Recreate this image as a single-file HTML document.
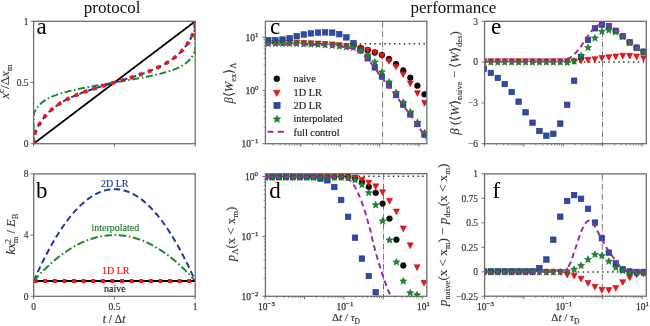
<!DOCTYPE html>
<html><head><meta charset="utf-8"><style>
html,body{margin:0;padding:0;background:#fff;width:650px;height:326px;overflow:hidden}
svg{display:block;font-family:"Liberation Serif", serif;filter:blur(0.3px)}
</style></head><body>
<svg width="650" height="326" viewBox="0 0 650 326" font-family='"Liberation Serif", serif'>
<rect width="650" height="326" fill="#fff"/>
<defs>
<clipPath id="ca"><rect x="33.6" y="21.3" width="161.6" height="122.4"/></clipPath>
<clipPath id="cb"><rect x="33.7" y="173.9" width="161.5" height="122.4"/></clipPath>
<clipPath id="cc"><rect x="265.4" y="21.3" width="161.4" height="122.4"/></clipPath>
<clipPath id="cd"><rect x="265.4" y="173.7" width="161.4" height="122.6"/></clipPath>
<clipPath id="ce"><rect x="484.6" y="21.3" width="161.7" height="122.4"/></clipPath>
<clipPath id="cf"><rect x="484.6" y="173.9" width="161.7" height="122.3"/></clipPath>
</defs>
<text x="83.8" y="12.6" font-size="17" fill="#111" stroke="#111" stroke-width="0.0" text-anchor="start">protocol</text>
<text x="410.5" y="12.6" font-size="17" fill="#111" stroke="#111" stroke-width="0.0" text-anchor="start">performance</text>
<g clip-path="url(#ca)">
<path d="M33.6 143.7 L195.2 21.3" fill="none" stroke="#000" stroke-width="1.8"/>
<path d="M33.6 143.7 L33.68 113.73 L35.03 111.16 L36.37 108.96 L37.72 107.07 L39.06 105.44 L40.41 104.02 L41.75 102.77 L43.1 101.66 L44.44 100.68 L45.79 99.8 L47.13 99 L48.48 98.27 L49.82 97.6 L51.17 96.98 L52.52 96.4 L53.86 95.86 L55.21 95.35 L56.55 94.86 L57.9 94.4 L59.24 93.96 L60.59 93.54 L61.93 93.13 L63.28 92.74 L64.62 92.36 L65.97 91.99 L67.31 91.64 L68.66 91.29 L70 90.95 L71.35 90.63 L72.7 90.31 L74.04 90 L75.39 89.69 L76.73 89.39 L78.08 89.1 L79.42 88.81 L80.77 88.53 L82.11 88.26 L83.46 87.98 L84.8 87.72 L86.15 87.45 L87.49 87.2 L88.84 86.94 L90.18 86.69 L91.53 86.44 L92.87 86.19 L94.22 85.95 L95.57 85.71 L96.91 85.47 L98.26 85.23 L99.6 85 L100.95 84.77 L102.29 84.54 L103.64 84.31 L104.98 84.08 L106.33 83.85 L107.67 83.62 L109.02 83.4 L110.36 83.17 L111.71 82.95 L113.05 82.72 L114.4 82.5 L115.75 82.28 L117.09 82.05 L118.44 81.83 L119.78 81.6 L121.13 81.38 L122.47 81.15 L123.82 80.92 L125.16 80.69 L126.51 80.46 L127.85 80.23 L129.2 80 L130.54 79.77 L131.89 79.53 L133.23 79.29 L134.58 79.05 L135.93 78.81 L137.27 78.56 L138.62 78.31 L139.96 78.06 L141.31 77.8 L142.65 77.55 L144 77.28 L145.34 77.02 L146.69 76.74 L148.03 76.47 L149.38 76.19 L150.72 75.9 L152.07 75.61 L153.41 75.31 L154.76 75 L156.1 74.69 L157.45 74.37 L158.8 74.05 L160.14 73.71 L161.49 73.36 L162.83 73.01 L164.18 72.64 L165.52 72.26 L166.87 71.87 L168.21 71.46 L169.56 71.04 L170.9 70.6 L172.25 70.14 L173.59 69.65 L174.94 69.14 L176.28 68.6 L177.63 68.02 L178.98 67.4 L180.32 66.73 L181.67 66 L183.01 65.2 L184.36 64.32 L185.7 63.34 L187.05 62.23 L188.39 60.98 L189.74 59.56 L191.08 57.93 L192.43 56.04 L193.77 53.84 L195.12 51.27 L195.2 21.3" fill="none" stroke="#1c8a2c" stroke-width="2.0" stroke-dasharray="7 2.6 1.6 2.6"/>
<path d="M33.6 143.7 L33.68 135.97 L35.03 132.75 L36.37 129.84 L37.72 127.21 L39.06 124.82 L40.41 122.64 L41.75 120.63 L43.1 118.78 L44.44 117.06 L45.79 115.46 L47.13 113.97 L48.48 112.58 L49.82 111.27 L51.17 110.04 L52.52 108.88 L53.86 107.78 L55.21 106.74 L56.55 105.75 L57.9 104.81 L59.24 103.91 L60.59 103.05 L61.93 102.23 L63.28 101.44 L64.62 100.69 L65.97 99.96 L67.31 99.25 L68.66 98.57 L70 97.92 L71.35 97.28 L72.7 96.67 L74.04 96.07 L75.39 95.49 L76.73 94.93 L78.08 94.38 L79.42 93.84 L80.77 93.32 L82.11 92.8 L83.46 92.3 L84.8 91.81 L86.15 91.33 L87.49 90.86 L88.84 90.39 L90.18 89.94 L91.53 89.49 L92.87 89.05 L94.22 88.61 L95.57 88.18 L96.91 87.75 L98.26 87.33 L99.6 86.91 L100.95 86.5 L102.29 86.09 L103.64 85.68 L104.98 85.28 L106.33 84.88 L107.67 84.48 L109.02 84.08 L110.36 83.68 L111.71 83.29 L113.05 82.89 L114.4 82.5 L115.75 82.11 L117.09 81.71 L118.44 81.32 L119.78 80.92 L121.13 80.52 L122.47 80.12 L123.82 79.72 L125.16 79.32 L126.51 78.91 L127.85 78.5 L129.2 78.09 L130.54 77.67 L131.89 77.25 L133.23 76.82 L134.58 76.39 L135.93 75.95 L137.27 75.51 L138.62 75.06 L139.96 74.61 L141.31 74.14 L142.65 73.67 L144 73.19 L145.34 72.7 L146.69 72.2 L148.03 71.68 L149.38 71.16 L150.72 70.62 L152.07 70.07 L153.41 69.51 L154.76 68.93 L156.1 68.33 L157.45 67.72 L158.8 67.08 L160.14 66.43 L161.49 65.75 L162.83 65.04 L164.18 64.31 L165.52 63.56 L166.87 62.77 L168.21 61.95 L169.56 61.09 L170.9 60.19 L172.25 59.25 L173.59 58.26 L174.94 57.22 L176.28 56.12 L177.63 54.96 L178.98 53.73 L180.32 52.42 L181.67 51.03 L183.01 49.54 L184.36 47.94 L185.7 46.22 L187.05 44.37 L188.39 42.36 L189.74 40.18 L191.08 37.79 L192.43 35.16 L193.77 32.25 L195.12 29.03 L195.2 21.3" fill="none" stroke="#1f3a9c" stroke-width="2.0" stroke-dasharray="5.5 3.5"/>
<path d="M33.6 143.7 L33.68 135.97 L35.03 132.75 L36.37 129.84 L37.72 127.21 L39.06 124.82 L40.41 122.64 L41.75 120.63 L43.1 118.78 L44.44 117.06 L45.79 115.46 L47.13 113.97 L48.48 112.58 L49.82 111.27 L51.17 110.04 L52.52 108.88 L53.86 107.78 L55.21 106.74 L56.55 105.75 L57.9 104.81 L59.24 103.91 L60.59 103.05 L61.93 102.23 L63.28 101.44 L64.62 100.69 L65.97 99.96 L67.31 99.25 L68.66 98.57 L70 97.92 L71.35 97.28 L72.7 96.67 L74.04 96.07 L75.39 95.49 L76.73 94.93 L78.08 94.38 L79.42 93.84 L80.77 93.32 L82.11 92.8 L83.46 92.3 L84.8 91.81 L86.15 91.33 L87.49 90.86 L88.84 90.39 L90.18 89.94 L91.53 89.49 L92.87 89.05 L94.22 88.61 L95.57 88.18 L96.91 87.75 L98.26 87.33 L99.6 86.91 L100.95 86.5 L102.29 86.09 L103.64 85.68 L104.98 85.28 L106.33 84.88 L107.67 84.48 L109.02 84.08 L110.36 83.68 L111.71 83.29 L113.05 82.89 L114.4 82.5 L115.75 82.11 L117.09 81.71 L118.44 81.32 L119.78 80.92 L121.13 80.52 L122.47 80.12 L123.82 79.72 L125.16 79.32 L126.51 78.91 L127.85 78.5 L129.2 78.09 L130.54 77.67 L131.89 77.25 L133.23 76.82 L134.58 76.39 L135.93 75.95 L137.27 75.51 L138.62 75.06 L139.96 74.61 L141.31 74.14 L142.65 73.67 L144 73.19 L145.34 72.7 L146.69 72.2 L148.03 71.68 L149.38 71.16 L150.72 70.62 L152.07 70.07 L153.41 69.51 L154.76 68.93 L156.1 68.33 L157.45 67.72 L158.8 67.08 L160.14 66.43 L161.49 65.75 L162.83 65.04 L164.18 64.31 L165.52 63.56 L166.87 62.77 L168.21 61.95 L169.56 61.09 L170.9 60.19 L172.25 59.25 L173.59 58.26 L174.94 57.22 L176.28 56.12 L177.63 54.96 L178.98 53.73 L180.32 52.42 L181.67 51.03 L183.01 49.54 L184.36 47.94 L185.7 46.22 L187.05 44.37 L188.39 42.36 L189.74 40.18 L191.08 37.79 L192.43 35.16 L193.77 32.25 L195.12 29.03 L195.2 21.3" fill="none" stroke="#f01515" stroke-width="3.8" stroke-dasharray="3.8 5.8"/>
</g>
<rect x="33.6" y="21.3" width="161.6" height="122.4" fill="none" stroke="#6e6e6e" stroke-width="1.3"/>
<line x1="30.6" y1="143.7" x2="33.6" y2="143.7" stroke="#6e6e6e" stroke-width="1.0"/>
<line x1="30.6" y1="82.5" x2="33.6" y2="82.5" stroke="#6e6e6e" stroke-width="1.0"/>
<line x1="30.6" y1="21.3" x2="33.6" y2="21.3" stroke="#6e6e6e" stroke-width="1.0"/>
<line x1="33.6" y1="143.7" x2="33.6" y2="146.7" stroke="#6e6e6e" stroke-width="1.0"/>
<line x1="114.4" y1="143.7" x2="114.4" y2="146.7" stroke="#6e6e6e" stroke-width="1.0"/>
<line x1="195.2" y1="143.7" x2="195.2" y2="146.7" stroke="#6e6e6e" stroke-width="1.0"/>
<text x="28.5" y="147.3" font-size="9.5" fill="#333" stroke="#333" stroke-width="0.15" text-anchor="end">0</text>
<text x="28.5" y="86.3" font-size="9.5" fill="#333" stroke="#333" stroke-width="0.15" text-anchor="end">0.5</text>
<text x="28.5" y="24.6" font-size="9.5" fill="#333" stroke="#333" stroke-width="0.15" text-anchor="end">1</text>
<text x="36.6" y="33.6" font-size="23" fill="#000" stroke="#000" stroke-width="0.0" text-anchor="start">a</text>
<text transform="translate(9 81.5) rotate(-90)" font-size="13" fill="#333" stroke="#333" stroke-width="0.1" text-anchor="middle"><tspan font-style="italic">x</tspan><tspan dy="-4.68" font-size="8.84">c</tspan><tspan dy="4.68">/Δ</tspan><tspan font-style="italic">x</tspan><tspan dy="3.12" font-size="8.84">m</tspan></text>
<g clip-path="url(#cb)">
<path d="M33.7 281 L35.32 277.36 L36.93 273.8 L38.55 270.31 L40.16 266.9 L41.78 263.56 L43.39 260.29 L45.01 257.1 L46.62 253.97 L48.23 250.93 L49.85 247.95 L51.47 245.05 L53.08 242.22 L54.7 239.47 L56.31 236.79 L57.92 234.18 L59.54 231.65 L61.16 229.19 L62.77 226.8 L64.39 224.49 L66 222.25 L67.62 220.08 L69.23 217.99 L70.84 215.97 L72.46 214.02 L74.08 212.15 L75.69 210.35 L77.31 208.62 L78.92 206.97 L80.53 205.39 L82.15 203.89 L83.77 202.46 L85.38 201.1 L87 199.81 L88.61 198.6 L90.22 197.46 L91.84 196.4 L93.46 195.41 L95.07 194.49 L96.69 193.64 L98.3 192.87 L99.91 192.17 L101.53 191.55 L103.14 191 L104.76 190.52 L106.38 190.12 L107.99 189.79 L109.61 189.53 L111.22 189.35 L112.84 189.24 L114.45 189.2 L116.06 189.24 L117.68 189.35 L119.3 189.53 L120.91 189.79 L122.53 190.12 L124.14 190.52 L125.75 191 L127.37 191.55 L128.99 192.17 L130.6 192.87 L132.22 193.64 L133.83 194.49 L135.44 195.41 L137.06 196.4 L138.68 197.46 L140.29 198.6 L141.91 199.81 L143.52 201.1 L145.13 202.46 L146.75 203.89 L148.37 205.39 L149.98 206.97 L151.59 208.62 L153.21 210.35 L154.82 212.15 L156.44 214.02 L158.06 215.97 L159.67 217.99 L161.29 220.08 L162.9 222.25 L164.51 224.49 L166.13 226.8 L167.75 229.19 L169.36 231.65 L170.98 234.18 L172.59 236.79 L174.2 239.47 L175.82 242.22 L177.44 245.05 L179.05 247.95 L180.67 250.93 L182.28 253.97 L183.9 257.1 L185.51 260.29 L187.12 263.56 L188.74 266.9 L190.36 270.31 L191.97 273.8 L193.58 277.36 L195.2 281" fill="none" stroke="#1f3a9c" stroke-width="2.0" stroke-dasharray="6.2 3.6"/>
<path d="M33.7 281 L35.32 279.18 L36.93 277.4 L38.55 275.66 L40.16 273.95 L41.78 272.28 L43.39 270.64 L45.01 269.05 L46.62 267.49 L48.23 265.96 L49.85 264.48 L51.47 263.03 L53.08 261.61 L54.7 260.23 L56.31 258.89 L57.92 257.59 L59.54 256.32 L61.16 255.09 L62.77 253.9 L64.39 252.74 L66 251.62 L67.62 250.54 L69.23 249.49 L70.84 248.48 L72.46 247.51 L74.08 246.58 L75.69 245.68 L77.31 244.81 L78.92 243.99 L80.53 243.2 L82.15 242.44 L83.77 241.73 L85.38 241.05 L87 240.41 L88.61 239.8 L90.22 239.23 L91.84 238.7 L93.46 238.2 L95.07 237.74 L96.69 237.32 L98.3 236.94 L99.91 236.59 L101.53 236.28 L103.14 236 L104.76 235.76 L106.38 235.56 L107.99 235.39 L109.61 235.27 L111.22 235.17 L112.84 235.12 L114.45 235.1 L116.06 235.12 L117.68 235.17 L119.3 235.27 L120.91 235.39 L122.53 235.56 L124.14 235.76 L125.75 236 L127.37 236.28 L128.99 236.59 L130.6 236.94 L132.22 237.32 L133.83 237.74 L135.44 238.2 L137.06 238.7 L138.68 239.23 L140.29 239.8 L141.91 240.41 L143.52 241.05 L145.13 241.73 L146.75 242.44 L148.37 243.2 L149.98 243.99 L151.59 244.81 L153.21 245.68 L154.82 246.58 L156.44 247.51 L158.06 248.48 L159.67 249.49 L161.29 250.54 L162.9 251.62 L164.51 252.74 L166.13 253.9 L167.75 255.09 L169.36 256.32 L170.98 257.59 L172.59 258.89 L174.2 260.23 L175.82 261.61 L177.44 263.03 L179.05 264.48 L180.67 265.96 L182.28 267.49 L183.9 269.05 L185.51 270.64 L187.12 272.28 L188.74 273.95 L190.36 275.66 L191.97 277.4 L193.58 279.18 L195.2 281" fill="none" stroke="#1c8a2c" stroke-width="2.0" stroke-dasharray="7.5 2.6 1.6 2.6"/>
<path d="M33.7 281 L195.2 281" fill="none" stroke="#000" stroke-width="2.0"/>
<path d="M33.7 281 L195.2 281" fill="none" stroke="#f01515" stroke-width="3.8" stroke-dasharray="3.8 5.8"/>
</g>
<rect x="33.7" y="173.9" width="161.5" height="122.4" fill="none" stroke="#6e6e6e" stroke-width="1.3"/>
<line x1="30.7" y1="296.3" x2="33.7" y2="296.3" stroke="#6e6e6e" stroke-width="1.0"/>
<line x1="30.7" y1="235.1" x2="33.7" y2="235.1" stroke="#6e6e6e" stroke-width="1.0"/>
<line x1="30.7" y1="173.9" x2="33.7" y2="173.9" stroke="#6e6e6e" stroke-width="1.0"/>
<line x1="33.7" y1="296.3" x2="33.7" y2="299.3" stroke="#6e6e6e" stroke-width="1.0"/>
<line x1="114.45" y1="296.3" x2="114.45" y2="299.3" stroke="#6e6e6e" stroke-width="1.0"/>
<line x1="195.2" y1="296.3" x2="195.2" y2="299.3" stroke="#6e6e6e" stroke-width="1.0"/>
<text x="28.5" y="299.6" font-size="9.5" fill="#333" stroke="#333" stroke-width="0.15" text-anchor="end">0</text>
<text x="28.5" y="238.4" font-size="9.5" fill="#333" stroke="#333" stroke-width="0.15" text-anchor="end">4</text>
<text x="28.5" y="177.4" font-size="9.5" fill="#333" stroke="#333" stroke-width="0.15" text-anchor="end">8</text>
<text x="33.7" y="309.7" font-size="9.5" fill="#333" stroke="#333" stroke-width="0.15" text-anchor="middle">0</text>
<text x="114.5" y="309.7" font-size="9.5" fill="#333" stroke="#333" stroke-width="0.15" text-anchor="middle">0.5</text>
<text x="195.2" y="309.7" font-size="9.5" fill="#333" stroke="#333" stroke-width="0.15" text-anchor="middle">1</text>
<text x="36" y="198" font-size="23" fill="#000" stroke="#000" stroke-width="0.0" text-anchor="start">b</text>
<text x="101" y="187.2" font-size="10" fill="#1f3a9c" stroke="#1f3a9c" stroke-width="0.15" text-anchor="start">2D LR</text>
<text x="91.4" y="231.2" font-size="10" fill="#1a7a26" stroke="#1a7a26" stroke-width="0.15" text-anchor="start">interpolated</text>
<text x="102" y="274" font-size="10" fill="#f01515" stroke="#f01515" stroke-width="0.15" text-anchor="start">1D LR</text>
<text x="104" y="292.2" font-size="10" fill="#111" stroke="#111" stroke-width="0.15" text-anchor="start">naive</text>
<text x="114" y="322.8" font-size="11.5" fill="#333" stroke="#333" stroke-width="0.2" text-anchor="middle"><tspan font-style="italic">t</tspan> / Δ<tspan font-style="italic">t</tspan></text>
<text transform="translate(15 234) rotate(-90)" font-size="12.5" fill="#333" stroke="#333" stroke-width="0.1" text-anchor="middle"><tspan font-style="italic">kx</tspan><tspan dy="-4.5" font-size="8.5">2</tspan><tspan dy="7.5" font-size="8.5" dx="-4.25">m</tspan><tspan dy="-3"> / </tspan><tspan font-style="italic">E</tspan><tspan dy="3" font-size="8.5">B</tspan></text>
<line x1="265.4" y1="43.7" x2="426.8" y2="43.7" stroke="#3a3a3a" stroke-width="1.5" stroke-dasharray="1.5 3.4" stroke-dashoffset="-1.2" stroke-linecap="butt"/>
<line x1="382.6" y1="21.3" x2="382.6" y2="143.7" stroke="#777" stroke-width="1" stroke-dasharray="6 1.6 0.8 1.6"/>
<g clip-path="url(#cc)">
<circle cx="360.6" cy="48" r="2.9" fill="#111" stroke="#000" stroke-width="0.5"/>
<circle cx="367.7" cy="50.2" r="2.9" fill="#111" stroke="#000" stroke-width="0.5"/>
<circle cx="374.8" cy="52.5" r="2.9" fill="#111" stroke="#000" stroke-width="0.5"/>
<circle cx="381.9" cy="55.1" r="2.9" fill="#111" stroke="#000" stroke-width="0.5"/>
<circle cx="389" cy="59" r="2.9" fill="#111" stroke="#000" stroke-width="0.5"/>
<circle cx="396.1" cy="64" r="2.9" fill="#111" stroke="#000" stroke-width="0.5"/>
<circle cx="403.2" cy="70.5" r="2.9" fill="#111" stroke="#000" stroke-width="0.5"/>
<circle cx="410.3" cy="77.7" r="2.9" fill="#111" stroke="#000" stroke-width="0.5"/>
<circle cx="417.4" cy="85.7" r="2.9" fill="#111" stroke="#000" stroke-width="0.5"/>
<circle cx="424.5" cy="94.3" r="2.9" fill="#111" stroke="#000" stroke-width="0.5"/>
<path d="M265.25 40.17 L271.35 40.17 L268.3 45.96 Z" fill="#f01515" stroke="#b00000" stroke-width="0.5"/>
<path d="M272.35 40.17 L278.45 40.17 L275.4 45.96 Z" fill="#f01515" stroke="#b00000" stroke-width="0.5"/>
<path d="M279.45 40.17 L285.55 40.17 L282.5 45.96 Z" fill="#f01515" stroke="#b00000" stroke-width="0.5"/>
<path d="M286.55 40.17 L292.65 40.17 L289.6 45.96 Z" fill="#f01515" stroke="#b00000" stroke-width="0.5"/>
<path d="M293.65 40.17 L299.75 40.17 L296.7 45.96 Z" fill="#f01515" stroke="#b00000" stroke-width="0.5"/>
<path d="M300.75 40.47 L306.85 40.47 L303.8 46.26 Z" fill="#f01515" stroke="#b00000" stroke-width="0.5"/>
<path d="M307.85 40.77 L313.95 40.77 L310.9 46.56 Z" fill="#f01515" stroke="#b00000" stroke-width="0.5"/>
<path d="M314.95 41.07 L321.05 41.07 L318 46.86 Z" fill="#f01515" stroke="#b00000" stroke-width="0.5"/>
<path d="M322.05 41.47 L328.15 41.47 L325.1 47.26 Z" fill="#f01515" stroke="#b00000" stroke-width="0.5"/>
<path d="M329.15 41.97 L335.25 41.97 L332.2 47.76 Z" fill="#f01515" stroke="#b00000" stroke-width="0.5"/>
<path d="M336.25 42.67 L342.35 42.67 L339.3 48.46 Z" fill="#f01515" stroke="#b00000" stroke-width="0.5"/>
<path d="M343.35 43.57 L349.45 43.57 L346.4 49.36 Z" fill="#f01515" stroke="#b00000" stroke-width="0.5"/>
<path d="M350.45 44.17 L356.55 44.17 L353.5 49.96 Z" fill="#f01515" stroke="#b00000" stroke-width="0.5"/>
<path d="M357.55 46.07 L363.65 46.07 L360.6 51.86 Z" fill="#f01515" stroke="#b00000" stroke-width="0.5"/>
<path d="M364.65 47.67 L370.75 47.67 L367.7 53.46 Z" fill="#f01515" stroke="#b00000" stroke-width="0.5"/>
<path d="M371.75 50.07 L377.85 50.07 L374.8 55.86 Z" fill="#f01515" stroke="#b00000" stroke-width="0.5"/>
<path d="M378.85 53.07 L384.95 53.07 L381.9 58.86 Z" fill="#f01515" stroke="#b00000" stroke-width="0.5"/>
<path d="M385.95 58.37 L392.05 58.37 L389 64.16 Z" fill="#f01515" stroke="#b00000" stroke-width="0.5"/>
<path d="M393.05 64.07 L399.15 64.07 L396.1 69.86 Z" fill="#f01515" stroke="#b00000" stroke-width="0.5"/>
<path d="M400.15 71.77 L406.25 71.77 L403.2 77.56 Z" fill="#f01515" stroke="#b00000" stroke-width="0.5"/>
<path d="M407.25 80.97 L413.35 80.97 L410.3 86.76 Z" fill="#f01515" stroke="#b00000" stroke-width="0.5"/>
<path d="M414.35 90.67 L420.45 90.67 L417.4 96.46 Z" fill="#f01515" stroke="#b00000" stroke-width="0.5"/>
<path d="M421.45 100.37 L427.55 100.37 L424.5 106.16 Z" fill="#f01515" stroke="#b00000" stroke-width="0.5"/>
<rect x="265.55" y="37.45" width="5.5" height="5.5" fill="#2f4aa6" stroke="#1f3380" stroke-width="0.6"/>
<rect x="272.65" y="37.45" width="5.5" height="5.5" fill="#2f4aa6" stroke="#1f3380" stroke-width="0.6"/>
<rect x="279.75" y="36.75" width="5.5" height="5.5" fill="#2f4aa6" stroke="#1f3380" stroke-width="0.6"/>
<rect x="286.85" y="35.55" width="5.5" height="5.5" fill="#2f4aa6" stroke="#1f3380" stroke-width="0.6"/>
<rect x="293.95" y="33.45" width="5.5" height="5.5" fill="#2f4aa6" stroke="#1f3380" stroke-width="0.6"/>
<rect x="301.05" y="31.75" width="5.5" height="5.5" fill="#2f4aa6" stroke="#1f3380" stroke-width="0.6"/>
<rect x="308.15" y="30.65" width="5.5" height="5.5" fill="#2f4aa6" stroke="#1f3380" stroke-width="0.6"/>
<rect x="315.25" y="29.85" width="5.5" height="5.5" fill="#2f4aa6" stroke="#1f3380" stroke-width="0.6"/>
<rect x="322.35" y="29.65" width="5.5" height="5.5" fill="#2f4aa6" stroke="#1f3380" stroke-width="0.6"/>
<rect x="329.45" y="29.85" width="5.5" height="5.5" fill="#2f4aa6" stroke="#1f3380" stroke-width="0.6"/>
<rect x="336.55" y="31.45" width="5.5" height="5.5" fill="#2f4aa6" stroke="#1f3380" stroke-width="0.6"/>
<rect x="343.65" y="34.65" width="5.5" height="5.5" fill="#2f4aa6" stroke="#1f3380" stroke-width="0.6"/>
<rect x="350.75" y="40.45" width="5.5" height="5.5" fill="#2f4aa6" stroke="#1f3380" stroke-width="0.6"/>
<rect x="357.85" y="47.55" width="5.5" height="5.5" fill="#2f4aa6" stroke="#1f3380" stroke-width="0.6"/>
<rect x="364.95" y="55.55" width="5.5" height="5.5" fill="#2f4aa6" stroke="#1f3380" stroke-width="0.6"/>
<rect x="372.05" y="64.65" width="5.5" height="5.5" fill="#2f4aa6" stroke="#1f3380" stroke-width="0.6"/>
<rect x="379.15" y="73.85" width="5.5" height="5.5" fill="#2f4aa6" stroke="#1f3380" stroke-width="0.6"/>
<rect x="386.25" y="82.65" width="5.5" height="5.5" fill="#2f4aa6" stroke="#1f3380" stroke-width="0.6"/>
<rect x="393.35" y="92.35" width="5.5" height="5.5" fill="#2f4aa6" stroke="#1f3380" stroke-width="0.6"/>
<rect x="400.45" y="101.95" width="5.5" height="5.5" fill="#2f4aa6" stroke="#1f3380" stroke-width="0.6"/>
<rect x="407.55" y="111.65" width="5.5" height="5.5" fill="#2f4aa6" stroke="#1f3380" stroke-width="0.6"/>
<rect x="414.65" y="121.35" width="5.5" height="5.5" fill="#2f4aa6" stroke="#1f3380" stroke-width="0.6"/>
<rect x="421.75" y="131.85" width="5.5" height="5.5" fill="#2f4aa6" stroke="#1f3380" stroke-width="0.6"/>
<path d="M268.3 40 L269.28 42.35 L271.82 42.56 L269.88 44.21 L270.47 46.69 L268.3 45.36 L266.13 46.69 L266.72 44.21 L264.78 42.56 L267.32 42.35 Z" fill="#1c8a2c" stroke="#0f5c1a" stroke-width="0.5"/>
<path d="M275.4 40 L276.38 42.35 L278.92 42.56 L276.98 44.21 L277.57 46.69 L275.4 45.36 L273.23 46.69 L273.82 44.21 L271.88 42.56 L274.42 42.35 Z" fill="#1c8a2c" stroke="#0f5c1a" stroke-width="0.5"/>
<path d="M282.5 40 L283.48 42.35 L286.02 42.56 L284.08 44.21 L284.67 46.69 L282.5 45.36 L280.33 46.69 L280.92 44.21 L278.98 42.56 L281.52 42.35 Z" fill="#1c8a2c" stroke="#0f5c1a" stroke-width="0.5"/>
<path d="M289.6 40 L290.58 42.35 L293.12 42.56 L291.18 44.21 L291.77 46.69 L289.6 45.36 L287.43 46.69 L288.02 44.21 L286.08 42.56 L288.62 42.35 Z" fill="#1c8a2c" stroke="#0f5c1a" stroke-width="0.5"/>
<path d="M296.7 40 L297.68 42.35 L300.22 42.56 L298.28 44.21 L298.87 46.69 L296.7 45.36 L294.53 46.69 L295.12 44.21 L293.18 42.56 L295.72 42.35 Z" fill="#1c8a2c" stroke="#0f5c1a" stroke-width="0.5"/>
<path d="M303.8 40.3 L304.78 42.65 L307.32 42.86 L305.38 44.51 L305.97 46.99 L303.8 45.66 L301.63 46.99 L302.22 44.51 L300.28 42.86 L302.82 42.65 Z" fill="#1c8a2c" stroke="#0f5c1a" stroke-width="0.5"/>
<path d="M310.9 40.6 L311.88 42.95 L314.42 43.16 L312.48 44.81 L313.07 47.29 L310.9 45.96 L308.73 47.29 L309.32 44.81 L307.38 43.16 L309.92 42.95 Z" fill="#1c8a2c" stroke="#0f5c1a" stroke-width="0.5"/>
<path d="M318 40.9 L318.98 43.25 L321.52 43.46 L319.58 45.11 L320.17 47.59 L318 46.27 L315.83 47.59 L316.42 45.11 L314.48 43.46 L317.02 43.25 Z" fill="#1c8a2c" stroke="#0f5c1a" stroke-width="0.5"/>
<path d="M325.1 41.3 L326.08 43.65 L328.62 43.86 L326.68 45.51 L327.27 47.99 L325.1 46.66 L322.93 47.99 L323.52 45.51 L321.58 43.86 L324.12 43.65 Z" fill="#1c8a2c" stroke="#0f5c1a" stroke-width="0.5"/>
<path d="M332.2 41.8 L333.18 44.15 L335.72 44.36 L333.78 46.01 L334.37 48.49 L332.2 47.16 L330.03 48.49 L330.62 46.01 L328.68 44.36 L331.22 44.15 Z" fill="#1c8a2c" stroke="#0f5c1a" stroke-width="0.5"/>
<path d="M339.3 42.5 L340.28 44.85 L342.82 45.06 L340.88 46.71 L341.47 49.19 L339.3 47.86 L337.13 49.19 L337.72 46.71 L335.78 45.06 L338.32 44.85 Z" fill="#1c8a2c" stroke="#0f5c1a" stroke-width="0.5"/>
<path d="M346.4 43.4 L347.38 45.75 L349.92 45.96 L347.98 47.61 L348.57 50.09 L346.4 48.77 L344.23 50.09 L344.82 47.61 L342.88 45.96 L345.42 45.75 Z" fill="#1c8a2c" stroke="#0f5c1a" stroke-width="0.5"/>
<path d="M353.5 44 L354.48 46.35 L357.02 46.56 L355.08 48.21 L355.67 50.69 L353.5 49.36 L351.33 50.69 L351.92 48.21 L349.98 46.56 L352.52 46.35 Z" fill="#1c8a2c" stroke="#0f5c1a" stroke-width="0.5"/>
<path d="M360.6 46.5 L361.58 48.85 L364.12 49.06 L362.18 50.71 L362.77 53.19 L360.6 51.86 L358.43 53.19 L359.02 50.71 L357.08 49.06 L359.62 48.85 Z" fill="#1c8a2c" stroke="#0f5c1a" stroke-width="0.5"/>
<path d="M367.7 51.4 L368.68 53.75 L371.22 53.96 L369.28 55.61 L369.87 58.09 L367.7 56.77 L365.53 58.09 L366.12 55.61 L364.18 53.96 L366.72 53.75 Z" fill="#1c8a2c" stroke="#0f5c1a" stroke-width="0.5"/>
<path d="M374.8 58.4 L375.78 60.75 L378.32 60.96 L376.38 62.61 L376.97 65.09 L374.8 63.77 L372.63 65.09 L373.22 62.61 L371.28 60.96 L373.82 60.75 Z" fill="#1c8a2c" stroke="#0f5c1a" stroke-width="0.5"/>
<path d="M381.9 68.3 L382.88 70.65 L385.42 70.86 L383.48 72.51 L384.07 74.99 L381.9 73.67 L379.73 74.99 L380.32 72.51 L378.38 70.86 L380.92 70.65 Z" fill="#1c8a2c" stroke="#0f5c1a" stroke-width="0.5"/>
<path d="M389 78.5 L389.98 80.85 L392.52 81.06 L390.58 82.71 L391.17 85.19 L389 83.87 L386.83 85.19 L387.42 82.71 L385.48 81.06 L388.02 80.85 Z" fill="#1c8a2c" stroke="#0f5c1a" stroke-width="0.5"/>
<path d="M396.1 89 L397.08 91.35 L399.62 91.56 L397.68 93.21 L398.27 95.69 L396.1 94.37 L393.93 95.69 L394.52 93.21 L392.58 91.56 L395.12 91.35 Z" fill="#1c8a2c" stroke="#0f5c1a" stroke-width="0.5"/>
<path d="M403.2 98.7 L404.18 101.05 L406.72 101.26 L404.78 102.91 L405.37 105.39 L403.2 104.07 L401.03 105.39 L401.62 102.91 L399.68 101.26 L402.22 101.05 Z" fill="#1c8a2c" stroke="#0f5c1a" stroke-width="0.5"/>
<path d="M410.3 108.3 L411.28 110.65 L413.82 110.86 L411.88 112.51 L412.47 114.99 L410.3 113.67 L408.13 114.99 L408.72 112.51 L406.78 110.86 L409.32 110.65 Z" fill="#1c8a2c" stroke="#0f5c1a" stroke-width="0.5"/>
<path d="M417.4 118.8 L418.38 121.15 L420.92 121.36 L418.98 123.01 L419.57 125.49 L417.4 124.17 L415.23 125.49 L415.82 123.01 L413.88 121.36 L416.42 121.15 Z" fill="#1c8a2c" stroke="#0f5c1a" stroke-width="0.5"/>
<path d="M424.5 129.1 L425.48 131.45 L428.02 131.66 L426.08 133.31 L426.67 135.79 L424.5 134.47 L422.33 135.79 L422.92 133.31 L420.98 131.66 L423.52 131.45 Z" fill="#1c8a2c" stroke="#0f5c1a" stroke-width="0.5"/>
<path d="M265.4 44.4 C271.17 44.43 290.13 44.47 300 44.6 C309.87 44.73 317.93 44.87 324.6 45.2 C331.27 45.53 335.28 45.98 340 46.6 C344.72 47.22 349.52 47.9 352.9 48.9 C356.28 49.9 357.93 50.98 360.3 52.6 C362.67 54.22 364.82 56.17 367.1 58.6 C369.38 61.03 371.7 64.23 374 67.2 C376.3 70.17 378.6 73.38 380.9 76.4 C383.2 79.42 385.4 82.18 387.8 85.3 C390.2 88.42 392.85 91.88 395.3 95.1 C397.75 98.32 400.07 101.4 402.5 104.6 C404.93 107.8 407.52 111.05 409.9 114.3 C412.28 117.55 414.48 120.72 416.8 124.1 C419.12 127.48 421.93 131.87 423.8 134.6 C425.67 137.33 427.3 139.52 428 140.5" fill="none" stroke="#a02ca0" stroke-width="2.0" stroke-dasharray="5.5 3.7"/>
</g>
<rect x="265.4" y="21.3" width="161.4" height="122.4" fill="none" stroke="#6e6e6e" stroke-width="1.3"/>
<line x1="300.8" y1="143.7" x2="300.8" y2="146.7" stroke="#6e6e6e" stroke-width="1.0"/>
<line x1="340.2" y1="143.7" x2="340.2" y2="146.7" stroke="#6e6e6e" stroke-width="1.0"/>
<line x1="379.6" y1="143.7" x2="379.6" y2="146.7" stroke="#6e6e6e" stroke-width="1.0"/>
<line x1="419" y1="143.7" x2="419" y2="146.7" stroke="#6e6e6e" stroke-width="1.0"/>
<line x1="273.26" y1="143.7" x2="273.26" y2="145.5" stroke="#6e6e6e" stroke-width="0.8"/>
<line x1="280.2" y1="143.7" x2="280.2" y2="145.5" stroke="#6e6e6e" stroke-width="0.8"/>
<line x1="285.12" y1="143.7" x2="285.12" y2="145.5" stroke="#6e6e6e" stroke-width="0.8"/>
<line x1="288.94" y1="143.7" x2="288.94" y2="145.5" stroke="#6e6e6e" stroke-width="0.8"/>
<line x1="292.06" y1="143.7" x2="292.06" y2="145.5" stroke="#6e6e6e" stroke-width="0.8"/>
<line x1="294.7" y1="143.7" x2="294.7" y2="145.5" stroke="#6e6e6e" stroke-width="0.8"/>
<line x1="296.98" y1="143.7" x2="296.98" y2="145.5" stroke="#6e6e6e" stroke-width="0.8"/>
<line x1="299" y1="143.7" x2="299" y2="145.5" stroke="#6e6e6e" stroke-width="0.8"/>
<line x1="312.66" y1="143.7" x2="312.66" y2="145.5" stroke="#6e6e6e" stroke-width="0.8"/>
<line x1="319.6" y1="143.7" x2="319.6" y2="145.5" stroke="#6e6e6e" stroke-width="0.8"/>
<line x1="324.52" y1="143.7" x2="324.52" y2="145.5" stroke="#6e6e6e" stroke-width="0.8"/>
<line x1="328.34" y1="143.7" x2="328.34" y2="145.5" stroke="#6e6e6e" stroke-width="0.8"/>
<line x1="331.46" y1="143.7" x2="331.46" y2="145.5" stroke="#6e6e6e" stroke-width="0.8"/>
<line x1="334.1" y1="143.7" x2="334.1" y2="145.5" stroke="#6e6e6e" stroke-width="0.8"/>
<line x1="336.38" y1="143.7" x2="336.38" y2="145.5" stroke="#6e6e6e" stroke-width="0.8"/>
<line x1="338.4" y1="143.7" x2="338.4" y2="145.5" stroke="#6e6e6e" stroke-width="0.8"/>
<line x1="352.06" y1="143.7" x2="352.06" y2="145.5" stroke="#6e6e6e" stroke-width="0.8"/>
<line x1="359" y1="143.7" x2="359" y2="145.5" stroke="#6e6e6e" stroke-width="0.8"/>
<line x1="363.92" y1="143.7" x2="363.92" y2="145.5" stroke="#6e6e6e" stroke-width="0.8"/>
<line x1="367.74" y1="143.7" x2="367.74" y2="145.5" stroke="#6e6e6e" stroke-width="0.8"/>
<line x1="370.86" y1="143.7" x2="370.86" y2="145.5" stroke="#6e6e6e" stroke-width="0.8"/>
<line x1="373.5" y1="143.7" x2="373.5" y2="145.5" stroke="#6e6e6e" stroke-width="0.8"/>
<line x1="375.78" y1="143.7" x2="375.78" y2="145.5" stroke="#6e6e6e" stroke-width="0.8"/>
<line x1="377.8" y1="143.7" x2="377.8" y2="145.5" stroke="#6e6e6e" stroke-width="0.8"/>
<line x1="391.46" y1="143.7" x2="391.46" y2="145.5" stroke="#6e6e6e" stroke-width="0.8"/>
<line x1="398.4" y1="143.7" x2="398.4" y2="145.5" stroke="#6e6e6e" stroke-width="0.8"/>
<line x1="403.32" y1="143.7" x2="403.32" y2="145.5" stroke="#6e6e6e" stroke-width="0.8"/>
<line x1="407.14" y1="143.7" x2="407.14" y2="145.5" stroke="#6e6e6e" stroke-width="0.8"/>
<line x1="410.26" y1="143.7" x2="410.26" y2="145.5" stroke="#6e6e6e" stroke-width="0.8"/>
<line x1="412.9" y1="143.7" x2="412.9" y2="145.5" stroke="#6e6e6e" stroke-width="0.8"/>
<line x1="415.18" y1="143.7" x2="415.18" y2="145.5" stroke="#6e6e6e" stroke-width="0.8"/>
<line x1="417.2" y1="143.7" x2="417.2" y2="145.5" stroke="#6e6e6e" stroke-width="0.8"/>
<line x1="262.4" y1="143.7" x2="265.4" y2="143.7" stroke="#6e6e6e" stroke-width="1.0"/>
<line x1="262.4" y1="90.5" x2="265.4" y2="90.5" stroke="#6e6e6e" stroke-width="1.0"/>
<line x1="262.4" y1="37.3" x2="265.4" y2="37.3" stroke="#6e6e6e" stroke-width="1.0"/>
<line x1="263.6" y1="127.69" x2="265.4" y2="127.69" stroke="#6e6e6e" stroke-width="0.8"/>
<line x1="263.6" y1="118.32" x2="265.4" y2="118.32" stroke="#6e6e6e" stroke-width="0.8"/>
<line x1="263.6" y1="111.67" x2="265.4" y2="111.67" stroke="#6e6e6e" stroke-width="0.8"/>
<line x1="263.6" y1="106.51" x2="265.4" y2="106.51" stroke="#6e6e6e" stroke-width="0.8"/>
<line x1="263.6" y1="102.3" x2="265.4" y2="102.3" stroke="#6e6e6e" stroke-width="0.8"/>
<line x1="263.6" y1="98.74" x2="265.4" y2="98.74" stroke="#6e6e6e" stroke-width="0.8"/>
<line x1="263.6" y1="95.66" x2="265.4" y2="95.66" stroke="#6e6e6e" stroke-width="0.8"/>
<line x1="263.6" y1="92.93" x2="265.4" y2="92.93" stroke="#6e6e6e" stroke-width="0.8"/>
<line x1="263.6" y1="74.49" x2="265.4" y2="74.49" stroke="#6e6e6e" stroke-width="0.8"/>
<line x1="263.6" y1="65.12" x2="265.4" y2="65.12" stroke="#6e6e6e" stroke-width="0.8"/>
<line x1="263.6" y1="58.47" x2="265.4" y2="58.47" stroke="#6e6e6e" stroke-width="0.8"/>
<line x1="263.6" y1="53.31" x2="265.4" y2="53.31" stroke="#6e6e6e" stroke-width="0.8"/>
<line x1="263.6" y1="49.1" x2="265.4" y2="49.1" stroke="#6e6e6e" stroke-width="0.8"/>
<line x1="263.6" y1="45.54" x2="265.4" y2="45.54" stroke="#6e6e6e" stroke-width="0.8"/>
<line x1="263.6" y1="42.46" x2="265.4" y2="42.46" stroke="#6e6e6e" stroke-width="0.8"/>
<line x1="263.6" y1="39.73" x2="265.4" y2="39.73" stroke="#6e6e6e" stroke-width="0.8"/>
<text x="270" y="33.7" font-size="23" fill="#000" stroke="#000" stroke-width="0.0" text-anchor="start">c</text>
<text x="252" y="40.5" font-size="9.5" fill="#333" stroke="#333" stroke-width="0.25" text-anchor="middle">10<tspan dy="-3.6" font-size="6.84">1</tspan></text>
<text x="252" y="94" font-size="9.5" fill="#333" stroke="#333" stroke-width="0.25" text-anchor="middle">10<tspan dy="-3.6" font-size="6.84">0</tspan></text>
<text x="250" y="147" font-size="9.5" fill="#333" stroke="#333" stroke-width="0.25" text-anchor="middle">10<tspan dy="-3.6" font-size="6.84">−1</tspan></text>
<circle cx="276.8" cy="78.8" r="3.0" fill="#111" stroke="#000" stroke-width="0.5"/>
<path d="M273.5 90.21 L280.1 90.21 L276.8 96.48 Z" fill="#f01515" stroke="#b00000" stroke-width="0.5"/>
<rect x="273.9" y="102.4" width="6.2" height="6.2" fill="#2f4aa6" stroke="#1f3380" stroke-width="0.6"/>
<path d="M277 115.2 L278.06 117.74 L280.8 117.96 L278.71 119.76 L279.35 122.44 L277 121 L274.65 122.44 L275.29 119.76 L273.2 117.96 L275.94 117.74 Z" fill="#1c8a2c" stroke="#0f5c1a" stroke-width="0.5"/>
<path d="M267.5 131.8 L283.8 131.8" fill="none" stroke="#a02ca0" stroke-width="2.0" stroke-dasharray="6 4.3"/>
<text x="293.5" y="81.8" font-size="10.3" fill="#222" stroke="#222" stroke-width="0.15" text-anchor="start">naive</text>
<text x="293.5" y="95.5" font-size="10.3" fill="#222" stroke="#222" stroke-width="0.15" text-anchor="start">1D LR</text>
<text x="293.5" y="108.8" font-size="10.3" fill="#222" stroke="#222" stroke-width="0.15" text-anchor="start">2D LR</text>
<text x="293.5" y="122.3" font-size="10.3" fill="#222" stroke="#222" stroke-width="0.15" text-anchor="start">interpolated</text>
<text x="293.5" y="135.5" font-size="10.3" fill="#222" stroke="#222" stroke-width="0.15" text-anchor="start">full control</text>
<text transform="translate(233 83) rotate(-90)" font-size="12.5" fill="#333" stroke="#333" stroke-width="0.1" text-anchor="middle"><tspan font-style="italic">β</tspan><tspan>⟨</tspan><tspan font-style="italic">W</tspan><tspan dy="3" font-size="8.5">ex</tspan><tspan dy="-3">⟩</tspan><tspan dy="3" font-size="8.5">Λ</tspan></text>
<line x1="265.4" y1="176.3" x2="426.8" y2="176.3" stroke="#3a3a3a" stroke-width="1.5" stroke-dasharray="1.5 3.4" stroke-dashoffset="0" stroke-linecap="butt"/>
<line x1="383.5" y1="173.7" x2="383.5" y2="296.3" stroke="#777" stroke-width="1" stroke-dasharray="6 1.6 0.8 1.6"/>
<g clip-path="url(#cd)">
<circle cx="265.3" cy="176.6" r="2.9" fill="#111" stroke="#000" stroke-width="0.5"/>
<circle cx="272.2" cy="176.6" r="2.9" fill="#111" stroke="#000" stroke-width="0.5"/>
<circle cx="279.1" cy="176.6" r="2.9" fill="#111" stroke="#000" stroke-width="0.5"/>
<circle cx="286" cy="176.6" r="2.9" fill="#111" stroke="#000" stroke-width="0.5"/>
<circle cx="292.9" cy="176.6" r="2.9" fill="#111" stroke="#000" stroke-width="0.5"/>
<circle cx="299.8" cy="176.6" r="2.9" fill="#111" stroke="#000" stroke-width="0.5"/>
<circle cx="306.7" cy="176.6" r="2.9" fill="#111" stroke="#000" stroke-width="0.5"/>
<circle cx="313.6" cy="176.6" r="2.9" fill="#111" stroke="#000" stroke-width="0.5"/>
<circle cx="320.5" cy="176.6" r="2.9" fill="#111" stroke="#000" stroke-width="0.5"/>
<circle cx="327.4" cy="176.6" r="2.9" fill="#111" stroke="#000" stroke-width="0.5"/>
<circle cx="334.3" cy="176.6" r="2.9" fill="#111" stroke="#000" stroke-width="0.5"/>
<circle cx="341.2" cy="176.6" r="2.9" fill="#111" stroke="#000" stroke-width="0.5"/>
<circle cx="348.1" cy="176.6" r="2.9" fill="#111" stroke="#000" stroke-width="0.5"/>
<circle cx="355" cy="178.5" r="2.9" fill="#111" stroke="#000" stroke-width="0.5"/>
<circle cx="361.9" cy="181.8" r="2.9" fill="#111" stroke="#000" stroke-width="0.5"/>
<circle cx="368.8" cy="186.8" r="2.9" fill="#111" stroke="#000" stroke-width="0.5"/>
<circle cx="375.7" cy="192.8" r="2.9" fill="#111" stroke="#000" stroke-width="0.5"/>
<circle cx="382.6" cy="203.6" r="2.9" fill="#111" stroke="#000" stroke-width="0.5"/>
<circle cx="389.5" cy="218.6" r="2.9" fill="#111" stroke="#000" stroke-width="0.5"/>
<circle cx="396.4" cy="239.7" r="2.9" fill="#111" stroke="#000" stroke-width="0.5"/>
<circle cx="403.3" cy="265.5" r="2.9" fill="#111" stroke="#000" stroke-width="0.5"/>
<path d="M262.25 174.67 L268.35 174.67 L265.3 180.46 Z" fill="#f01515" stroke="#b00000" stroke-width="0.5"/>
<path d="M269.15 174.67 L275.25 174.67 L272.2 180.46 Z" fill="#f01515" stroke="#b00000" stroke-width="0.5"/>
<path d="M276.05 174.67 L282.15 174.67 L279.1 180.46 Z" fill="#f01515" stroke="#b00000" stroke-width="0.5"/>
<path d="M282.95 174.67 L289.05 174.67 L286 180.46 Z" fill="#f01515" stroke="#b00000" stroke-width="0.5"/>
<path d="M289.85 174.67 L295.95 174.67 L292.9 180.46 Z" fill="#f01515" stroke="#b00000" stroke-width="0.5"/>
<path d="M296.75 174.67 L302.85 174.67 L299.8 180.46 Z" fill="#f01515" stroke="#b00000" stroke-width="0.5"/>
<path d="M303.65 174.67 L309.75 174.67 L306.7 180.46 Z" fill="#f01515" stroke="#b00000" stroke-width="0.5"/>
<path d="M310.55 174.67 L316.65 174.67 L313.6 180.46 Z" fill="#f01515" stroke="#b00000" stroke-width="0.5"/>
<path d="M317.45 174.67 L323.55 174.67 L320.5 180.46 Z" fill="#f01515" stroke="#b00000" stroke-width="0.5"/>
<path d="M324.35 174.67 L330.45 174.67 L327.4 180.46 Z" fill="#f01515" stroke="#b00000" stroke-width="0.5"/>
<path d="M331.25 174.67 L337.35 174.67 L334.3 180.46 Z" fill="#f01515" stroke="#b00000" stroke-width="0.5"/>
<path d="M338.15 174.67 L344.25 174.67 L341.2 180.46 Z" fill="#f01515" stroke="#b00000" stroke-width="0.5"/>
<path d="M345.05 174.87 L351.15 174.87 L348.1 180.66 Z" fill="#f01515" stroke="#b00000" stroke-width="0.5"/>
<path d="M351.95 174.97 L358.05 174.97 L355 180.76 Z" fill="#f01515" stroke="#b00000" stroke-width="0.5"/>
<path d="M358.85 177.17 L364.95 177.17 L361.9 182.96 Z" fill="#f01515" stroke="#b00000" stroke-width="0.5"/>
<path d="M365.75 180.27 L371.85 180.27 L368.8 186.06 Z" fill="#f01515" stroke="#b00000" stroke-width="0.5"/>
<path d="M372.65 183.87 L378.75 183.87 L375.7 189.66 Z" fill="#f01515" stroke="#b00000" stroke-width="0.5"/>
<path d="M379.55 189.77 L385.65 189.77 L382.6 195.56 Z" fill="#f01515" stroke="#b00000" stroke-width="0.5"/>
<path d="M386.45 198.37 L392.55 198.37 L389.5 204.16 Z" fill="#f01515" stroke="#b00000" stroke-width="0.5"/>
<path d="M393.35 209.07 L399.45 209.07 L396.4 214.86 Z" fill="#f01515" stroke="#b00000" stroke-width="0.5"/>
<path d="M400.25 226.07 L406.35 226.07 L403.3 231.86 Z" fill="#f01515" stroke="#b00000" stroke-width="0.5"/>
<path d="M407.15 242.87 L413.25 242.87 L410.2 248.66 Z" fill="#f01515" stroke="#b00000" stroke-width="0.5"/>
<path d="M414.05 264.77 L420.15 264.77 L417.1 270.56 Z" fill="#f01515" stroke="#b00000" stroke-width="0.5"/>
<path d="M420.95 280.37 L427.05 280.37 L424 286.16 Z" fill="#f01515" stroke="#b00000" stroke-width="0.5"/>
<rect x="262.55" y="174.15" width="5.5" height="5.5" fill="#2f4aa6" stroke="#1f3380" stroke-width="0.6"/>
<rect x="269.45" y="174.15" width="5.5" height="5.5" fill="#2f4aa6" stroke="#1f3380" stroke-width="0.6"/>
<rect x="276.35" y="174.15" width="5.5" height="5.5" fill="#2f4aa6" stroke="#1f3380" stroke-width="0.6"/>
<rect x="283.25" y="174.15" width="5.5" height="5.5" fill="#2f4aa6" stroke="#1f3380" stroke-width="0.6"/>
<rect x="290.15" y="174.15" width="5.5" height="5.5" fill="#2f4aa6" stroke="#1f3380" stroke-width="0.6"/>
<rect x="297.05" y="174.15" width="5.5" height="5.5" fill="#2f4aa6" stroke="#1f3380" stroke-width="0.6"/>
<rect x="303.95" y="174.15" width="5.5" height="5.5" fill="#2f4aa6" stroke="#1f3380" stroke-width="0.6"/>
<rect x="310.85" y="174.15" width="5.5" height="5.5" fill="#2f4aa6" stroke="#1f3380" stroke-width="0.6"/>
<rect x="317.75" y="175.85" width="5.5" height="5.5" fill="#2f4aa6" stroke="#1f3380" stroke-width="0.6"/>
<rect x="324.65" y="177.55" width="5.5" height="5.5" fill="#2f4aa6" stroke="#1f3380" stroke-width="0.6"/>
<rect x="331.55" y="184.25" width="5.5" height="5.5" fill="#2f4aa6" stroke="#1f3380" stroke-width="0.6"/>
<rect x="338.45" y="197.25" width="5.5" height="5.5" fill="#2f4aa6" stroke="#1f3380" stroke-width="0.6"/>
<rect x="345.35" y="214.05" width="5.5" height="5.5" fill="#2f4aa6" stroke="#1f3380" stroke-width="0.6"/>
<rect x="352.25" y="234.95" width="5.5" height="5.5" fill="#2f4aa6" stroke="#1f3380" stroke-width="0.6"/>
<rect x="359.15" y="255.85" width="5.5" height="5.5" fill="#2f4aa6" stroke="#1f3380" stroke-width="0.6"/>
<rect x="366.05" y="273.25" width="5.5" height="5.5" fill="#2f4aa6" stroke="#1f3380" stroke-width="0.6"/>
<rect x="372.95" y="289.55" width="5.5" height="5.5" fill="#2f4aa6" stroke="#1f3380" stroke-width="0.6"/>
<path d="M265.3 173.9 L266.28 176.25 L268.82 176.46 L266.88 178.11 L267.47 180.59 L265.3 179.26 L263.13 180.59 L263.72 178.11 L261.78 176.46 L264.32 176.25 Z" fill="#1c8a2c" stroke="#0f5c1a" stroke-width="0.5"/>
<path d="M272.2 173.9 L273.18 176.25 L275.72 176.46 L273.78 178.11 L274.37 180.59 L272.2 179.26 L270.03 180.59 L270.62 178.11 L268.68 176.46 L271.22 176.25 Z" fill="#1c8a2c" stroke="#0f5c1a" stroke-width="0.5"/>
<path d="M279.1 173.9 L280.08 176.25 L282.62 176.46 L280.68 178.11 L281.27 180.59 L279.1 179.26 L276.93 180.59 L277.52 178.11 L275.58 176.46 L278.12 176.25 Z" fill="#1c8a2c" stroke="#0f5c1a" stroke-width="0.5"/>
<path d="M286 173.9 L286.98 176.25 L289.52 176.46 L287.58 178.11 L288.17 180.59 L286 179.26 L283.83 180.59 L284.42 178.11 L282.48 176.46 L285.02 176.25 Z" fill="#1c8a2c" stroke="#0f5c1a" stroke-width="0.5"/>
<path d="M292.9 173.9 L293.88 176.25 L296.42 176.46 L294.48 178.11 L295.07 180.59 L292.9 179.26 L290.73 180.59 L291.32 178.11 L289.38 176.46 L291.92 176.25 Z" fill="#1c8a2c" stroke="#0f5c1a" stroke-width="0.5"/>
<path d="M299.8 173.9 L300.78 176.25 L303.32 176.46 L301.38 178.11 L301.97 180.59 L299.8 179.26 L297.63 180.59 L298.22 178.11 L296.28 176.46 L298.82 176.25 Z" fill="#1c8a2c" stroke="#0f5c1a" stroke-width="0.5"/>
<path d="M306.7 173.9 L307.68 176.25 L310.22 176.46 L308.28 178.11 L308.87 180.59 L306.7 179.26 L304.53 180.59 L305.12 178.11 L303.18 176.46 L305.72 176.25 Z" fill="#1c8a2c" stroke="#0f5c1a" stroke-width="0.5"/>
<path d="M313.6 173.9 L314.58 176.25 L317.12 176.46 L315.18 178.11 L315.77 180.59 L313.6 179.26 L311.43 180.59 L312.02 178.11 L310.08 176.46 L312.62 176.25 Z" fill="#1c8a2c" stroke="#0f5c1a" stroke-width="0.5"/>
<path d="M320.5 173.9 L321.48 176.25 L324.02 176.46 L322.08 178.11 L322.67 180.59 L320.5 179.26 L318.33 180.59 L318.92 178.11 L316.98 176.46 L319.52 176.25 Z" fill="#1c8a2c" stroke="#0f5c1a" stroke-width="0.5"/>
<path d="M327.4 173.9 L328.38 176.25 L330.92 176.46 L328.98 178.11 L329.57 180.59 L327.4 179.26 L325.23 180.59 L325.82 178.11 L323.88 176.46 L326.42 176.25 Z" fill="#1c8a2c" stroke="#0f5c1a" stroke-width="0.5"/>
<path d="M334.3 173.9 L335.28 176.25 L337.82 176.46 L335.88 178.11 L336.47 180.59 L334.3 179.26 L332.13 180.59 L332.72 178.11 L330.78 176.46 L333.32 176.25 Z" fill="#1c8a2c" stroke="#0f5c1a" stroke-width="0.5"/>
<path d="M341.2 173.9 L342.18 176.25 L344.72 176.46 L342.78 178.11 L343.37 180.59 L341.2 179.26 L339.03 180.59 L339.62 178.11 L337.68 176.46 L340.22 176.25 Z" fill="#1c8a2c" stroke="#0f5c1a" stroke-width="0.5"/>
<path d="M348.1 174.5 L349.08 176.85 L351.62 177.06 L349.68 178.71 L350.27 181.19 L348.1 179.87 L345.93 181.19 L346.52 178.71 L344.58 177.06 L347.12 176.85 Z" fill="#1c8a2c" stroke="#0f5c1a" stroke-width="0.5"/>
<path d="M355 176.3 L355.98 178.65 L358.52 178.86 L356.58 180.51 L357.17 182.99 L355 181.66 L352.83 182.99 L353.42 180.51 L351.48 178.86 L354.02 178.65 Z" fill="#1c8a2c" stroke="#0f5c1a" stroke-width="0.5"/>
<path d="M361.9 181.1 L362.88 183.45 L365.42 183.66 L363.48 185.31 L364.07 187.79 L361.9 186.47 L359.73 187.79 L360.32 185.31 L358.38 183.66 L360.92 183.45 Z" fill="#1c8a2c" stroke="#0f5c1a" stroke-width="0.5"/>
<path d="M368.8 189.1 L369.78 191.45 L372.32 191.66 L370.38 193.31 L370.97 195.79 L368.8 194.47 L366.63 195.79 L367.22 193.31 L365.28 191.66 L367.82 191.45 Z" fill="#1c8a2c" stroke="#0f5c1a" stroke-width="0.5"/>
<path d="M375.7 201.3 L376.68 203.65 L379.22 203.86 L377.28 205.51 L377.87 207.99 L375.7 206.66 L373.53 207.99 L374.12 205.51 L372.18 203.86 L374.72 203.65 Z" fill="#1c8a2c" stroke="#0f5c1a" stroke-width="0.5"/>
<path d="M382.6 217.4 L383.58 219.75 L386.12 219.96 L384.18 221.61 L384.77 224.09 L382.6 222.76 L380.43 224.09 L381.02 221.61 L379.08 219.96 L381.62 219.75 Z" fill="#1c8a2c" stroke="#0f5c1a" stroke-width="0.5"/>
<path d="M389.5 236.4 L390.48 238.75 L393.02 238.96 L391.08 240.61 L391.67 243.09 L389.5 241.76 L387.33 243.09 L387.92 240.61 L385.98 238.96 L388.52 238.75 Z" fill="#1c8a2c" stroke="#0f5c1a" stroke-width="0.5"/>
<path d="M396.4 258.4 L397.38 260.75 L399.92 260.96 L397.98 262.61 L398.57 265.09 L396.4 263.76 L394.23 265.09 L394.82 262.61 L392.88 260.96 L395.42 260.75 Z" fill="#1c8a2c" stroke="#0f5c1a" stroke-width="0.5"/>
<path d="M403.3 277.5 L404.28 279.85 L406.82 280.06 L404.88 281.71 L405.47 284.19 L403.3 282.87 L401.13 284.19 L401.72 281.71 L399.78 280.06 L402.32 279.85 Z" fill="#1c8a2c" stroke="#0f5c1a" stroke-width="0.5"/>
<path d="M410.2 289.2 L411.18 291.55 L413.72 291.76 L411.78 293.41 L412.37 295.89 L410.2 294.56 L408.03 295.89 L408.62 293.41 L406.68 291.76 L409.22 291.55 Z" fill="#1c8a2c" stroke="#0f5c1a" stroke-width="0.5"/>
<path d="M417.1 291.2 L418.08 293.55 L420.62 293.76 L418.68 295.41 L419.27 297.89 L417.1 296.56 L414.93 297.89 L415.52 295.41 L413.58 293.76 L416.12 293.55 Z" fill="#1c8a2c" stroke="#0f5c1a" stroke-width="0.5"/>
<path d="M265.4 176.4 C277 176.42 322.17 176.4 335 176.5 C347.83 176.6 339.95 176.37 342.4 177 C344.85 177.63 347.72 178.83 349.7 180.3 C351.68 181.77 352.77 183.35 354.3 185.8 C355.83 188.25 357.37 191.47 358.9 195 C360.43 198.53 362.08 202.83 363.5 207 C364.92 211.17 366.27 216.12 367.4 220 C368.53 223.88 369.32 226.42 370.3 230.3 C371.28 234.18 372.18 238.87 373.3 243.3 C374.42 247.73 375.77 252.6 377 256.9 C378.23 261.2 379.47 265.22 380.7 269.1 C381.93 272.98 383.17 276.72 384.4 280.2 C385.63 283.68 386.92 287.12 388.1 290 C389.28 292.88 390.93 296.25 391.5 297.5" fill="none" stroke="#a02ca0" stroke-width="2.0" stroke-dasharray="5.5 3.7"/>
</g>
<rect x="265.4" y="173.7" width="161.4" height="122.6" fill="none" stroke="#6e6e6e" stroke-width="1.3"/>
<line x1="265.1" y1="296.3" x2="265.1" y2="299.3" stroke="#6e6e6e" stroke-width="1.0"/>
<line x1="304.5" y1="296.3" x2="304.5" y2="299.3" stroke="#6e6e6e" stroke-width="1.0"/>
<line x1="343.9" y1="296.3" x2="343.9" y2="299.3" stroke="#6e6e6e" stroke-width="1.0"/>
<line x1="383.3" y1="296.3" x2="383.3" y2="299.3" stroke="#6e6e6e" stroke-width="1.0"/>
<line x1="422.7" y1="296.3" x2="422.7" y2="299.3" stroke="#6e6e6e" stroke-width="1.0"/>
<line x1="276.96" y1="296.3" x2="276.96" y2="298.1" stroke="#6e6e6e" stroke-width="0.8"/>
<line x1="283.9" y1="296.3" x2="283.9" y2="298.1" stroke="#6e6e6e" stroke-width="0.8"/>
<line x1="288.82" y1="296.3" x2="288.82" y2="298.1" stroke="#6e6e6e" stroke-width="0.8"/>
<line x1="292.64" y1="296.3" x2="292.64" y2="298.1" stroke="#6e6e6e" stroke-width="0.8"/>
<line x1="295.76" y1="296.3" x2="295.76" y2="298.1" stroke="#6e6e6e" stroke-width="0.8"/>
<line x1="298.4" y1="296.3" x2="298.4" y2="298.1" stroke="#6e6e6e" stroke-width="0.8"/>
<line x1="300.68" y1="296.3" x2="300.68" y2="298.1" stroke="#6e6e6e" stroke-width="0.8"/>
<line x1="302.7" y1="296.3" x2="302.7" y2="298.1" stroke="#6e6e6e" stroke-width="0.8"/>
<line x1="316.36" y1="296.3" x2="316.36" y2="298.1" stroke="#6e6e6e" stroke-width="0.8"/>
<line x1="323.3" y1="296.3" x2="323.3" y2="298.1" stroke="#6e6e6e" stroke-width="0.8"/>
<line x1="328.22" y1="296.3" x2="328.22" y2="298.1" stroke="#6e6e6e" stroke-width="0.8"/>
<line x1="332.04" y1="296.3" x2="332.04" y2="298.1" stroke="#6e6e6e" stroke-width="0.8"/>
<line x1="335.16" y1="296.3" x2="335.16" y2="298.1" stroke="#6e6e6e" stroke-width="0.8"/>
<line x1="337.8" y1="296.3" x2="337.8" y2="298.1" stroke="#6e6e6e" stroke-width="0.8"/>
<line x1="340.08" y1="296.3" x2="340.08" y2="298.1" stroke="#6e6e6e" stroke-width="0.8"/>
<line x1="342.1" y1="296.3" x2="342.1" y2="298.1" stroke="#6e6e6e" stroke-width="0.8"/>
<line x1="355.76" y1="296.3" x2="355.76" y2="298.1" stroke="#6e6e6e" stroke-width="0.8"/>
<line x1="362.7" y1="296.3" x2="362.7" y2="298.1" stroke="#6e6e6e" stroke-width="0.8"/>
<line x1="367.62" y1="296.3" x2="367.62" y2="298.1" stroke="#6e6e6e" stroke-width="0.8"/>
<line x1="371.44" y1="296.3" x2="371.44" y2="298.1" stroke="#6e6e6e" stroke-width="0.8"/>
<line x1="374.56" y1="296.3" x2="374.56" y2="298.1" stroke="#6e6e6e" stroke-width="0.8"/>
<line x1="377.2" y1="296.3" x2="377.2" y2="298.1" stroke="#6e6e6e" stroke-width="0.8"/>
<line x1="379.48" y1="296.3" x2="379.48" y2="298.1" stroke="#6e6e6e" stroke-width="0.8"/>
<line x1="381.5" y1="296.3" x2="381.5" y2="298.1" stroke="#6e6e6e" stroke-width="0.8"/>
<line x1="395.16" y1="296.3" x2="395.16" y2="298.1" stroke="#6e6e6e" stroke-width="0.8"/>
<line x1="402.1" y1="296.3" x2="402.1" y2="298.1" stroke="#6e6e6e" stroke-width="0.8"/>
<line x1="407.02" y1="296.3" x2="407.02" y2="298.1" stroke="#6e6e6e" stroke-width="0.8"/>
<line x1="410.84" y1="296.3" x2="410.84" y2="298.1" stroke="#6e6e6e" stroke-width="0.8"/>
<line x1="413.96" y1="296.3" x2="413.96" y2="298.1" stroke="#6e6e6e" stroke-width="0.8"/>
<line x1="416.6" y1="296.3" x2="416.6" y2="298.1" stroke="#6e6e6e" stroke-width="0.8"/>
<line x1="418.88" y1="296.3" x2="418.88" y2="298.1" stroke="#6e6e6e" stroke-width="0.8"/>
<line x1="420.9" y1="296.3" x2="420.9" y2="298.1" stroke="#6e6e6e" stroke-width="0.8"/>
<line x1="262.4" y1="296.3" x2="265.4" y2="296.3" stroke="#6e6e6e" stroke-width="1.0"/>
<line x1="262.4" y1="236.4" x2="265.4" y2="236.4" stroke="#6e6e6e" stroke-width="1.0"/>
<line x1="262.4" y1="176.5" x2="265.4" y2="176.5" stroke="#6e6e6e" stroke-width="1.0"/>
<line x1="263.6" y1="278.27" x2="265.4" y2="278.27" stroke="#6e6e6e" stroke-width="0.8"/>
<line x1="263.6" y1="267.72" x2="265.4" y2="267.72" stroke="#6e6e6e" stroke-width="0.8"/>
<line x1="263.6" y1="260.24" x2="265.4" y2="260.24" stroke="#6e6e6e" stroke-width="0.8"/>
<line x1="263.6" y1="254.43" x2="265.4" y2="254.43" stroke="#6e6e6e" stroke-width="0.8"/>
<line x1="263.6" y1="249.69" x2="265.4" y2="249.69" stroke="#6e6e6e" stroke-width="0.8"/>
<line x1="263.6" y1="245.68" x2="265.4" y2="245.68" stroke="#6e6e6e" stroke-width="0.8"/>
<line x1="263.6" y1="242.2" x2="265.4" y2="242.2" stroke="#6e6e6e" stroke-width="0.8"/>
<line x1="263.6" y1="239.14" x2="265.4" y2="239.14" stroke="#6e6e6e" stroke-width="0.8"/>
<line x1="263.6" y1="218.37" x2="265.4" y2="218.37" stroke="#6e6e6e" stroke-width="0.8"/>
<line x1="263.6" y1="207.82" x2="265.4" y2="207.82" stroke="#6e6e6e" stroke-width="0.8"/>
<line x1="263.6" y1="200.34" x2="265.4" y2="200.34" stroke="#6e6e6e" stroke-width="0.8"/>
<line x1="263.6" y1="194.53" x2="265.4" y2="194.53" stroke="#6e6e6e" stroke-width="0.8"/>
<line x1="263.6" y1="189.79" x2="265.4" y2="189.79" stroke="#6e6e6e" stroke-width="0.8"/>
<line x1="263.6" y1="185.78" x2="265.4" y2="185.78" stroke="#6e6e6e" stroke-width="0.8"/>
<line x1="263.6" y1="182.3" x2="265.4" y2="182.3" stroke="#6e6e6e" stroke-width="0.8"/>
<line x1="263.6" y1="179.24" x2="265.4" y2="179.24" stroke="#6e6e6e" stroke-width="0.8"/>
<text x="269.3" y="197.6" font-size="23" fill="#000" stroke="#000" stroke-width="0.0" text-anchor="start">d</text>
<text x="251.5" y="179.8" font-size="9.5" fill="#333" stroke="#333" stroke-width="0.25" text-anchor="middle">10<tspan dy="-3.6" font-size="6.84">0</tspan></text>
<text x="250" y="239.8" font-size="9.5" fill="#333" stroke="#333" stroke-width="0.25" text-anchor="middle">10<tspan dy="-3.6" font-size="6.84">−1</tspan></text>
<text x="250" y="299.5" font-size="9.5" fill="#333" stroke="#333" stroke-width="0.25" text-anchor="middle">10<tspan dy="-3.6" font-size="6.84">−2</tspan></text>
<text x="266.5" y="309.5" font-size="9.5" fill="#333" stroke="#333" stroke-width="0.25" text-anchor="middle">10<tspan dy="-3.6" font-size="6.84">−3</tspan></text>
<text x="345" y="309.5" font-size="9.5" fill="#333" stroke="#333" stroke-width="0.25" text-anchor="middle">10<tspan dy="-3.6" font-size="6.84">−1</tspan></text>
<text x="423.5" y="309.5" font-size="9.5" fill="#333" stroke="#333" stroke-width="0.25" text-anchor="middle">10<tspan dy="-3.6" font-size="6.84">1</tspan></text>
<text x="346" y="321.2" font-size="11" fill="#333" stroke="#333" stroke-width="0.2" text-anchor="middle">Δ<tspan font-style="italic">t</tspan> / <tspan font-style="italic">τ</tspan><tspan dy="2.5" font-size="7.5">D</tspan></text>
<text transform="translate(234.5 234) rotate(-90)" font-size="12.8" fill="#333" stroke="#333" stroke-width="0.1" text-anchor="middle"><tspan font-style="italic">p</tspan><tspan dy="3.07" font-size="8.7">Λ</tspan><tspan dy="-3.07">(x &lt; x</tspan><tspan dy="3.07" font-size="8.7">m</tspan><tspan dy="-3.07">)</tspan></text>
<line x1="484.6" y1="62.1" x2="646.3" y2="62.1" stroke="#3a3a3a" stroke-width="1.5" stroke-dasharray="1.5 3.4" stroke-dashoffset="-1.3" stroke-linecap="butt"/>
<line x1="602.5" y1="21.3" x2="602.5" y2="143.7" stroke="#777" stroke-width="1" stroke-dasharray="6 1.6 0.8 1.6"/>
<g clip-path="url(#ce)">
<path d="M480.87 58.67 L486.97 58.67 L483.92 64.46 Z" fill="#f01515" stroke="#b00000" stroke-width="0.5"/>
<path d="M487.81 58.67 L493.91 58.67 L490.86 64.46 Z" fill="#f01515" stroke="#b00000" stroke-width="0.5"/>
<path d="M494.75 58.67 L500.85 58.67 L497.8 64.46 Z" fill="#f01515" stroke="#b00000" stroke-width="0.5"/>
<path d="M501.69 58.67 L507.79 58.67 L504.74 64.46 Z" fill="#f01515" stroke="#b00000" stroke-width="0.5"/>
<path d="M508.63 58.67 L514.73 58.67 L511.68 64.46 Z" fill="#f01515" stroke="#b00000" stroke-width="0.5"/>
<path d="M515.57 58.67 L521.67 58.67 L518.62 64.46 Z" fill="#f01515" stroke="#b00000" stroke-width="0.5"/>
<path d="M522.51 58.67 L528.61 58.67 L525.56 64.46 Z" fill="#f01515" stroke="#b00000" stroke-width="0.5"/>
<path d="M529.45 58.67 L535.55 58.67 L532.5 64.46 Z" fill="#f01515" stroke="#b00000" stroke-width="0.5"/>
<path d="M536.39 58.67 L542.49 58.67 L539.44 64.46 Z" fill="#f01515" stroke="#b00000" stroke-width="0.5"/>
<path d="M543.33 58.67 L549.43 58.67 L546.38 64.46 Z" fill="#f01515" stroke="#b00000" stroke-width="0.5"/>
<path d="M550.27 58.67 L556.37 58.67 L553.32 64.46 Z" fill="#f01515" stroke="#b00000" stroke-width="0.5"/>
<path d="M557.21 58.67 L563.31 58.67 L560.26 64.46 Z" fill="#f01515" stroke="#b00000" stroke-width="0.5"/>
<path d="M564.15 58.67 L570.25 58.67 L567.2 64.46 Z" fill="#f01515" stroke="#b00000" stroke-width="0.5"/>
<path d="M571.09 58.67 L577.19 58.67 L574.14 64.46 Z" fill="#f01515" stroke="#b00000" stroke-width="0.5"/>
<path d="M578.03 58.07 L584.13 58.07 L581.08 63.86 Z" fill="#f01515" stroke="#b00000" stroke-width="0.5"/>
<path d="M584.97 57.27 L591.07 57.27 L588.02 63.06 Z" fill="#f01515" stroke="#b00000" stroke-width="0.5"/>
<path d="M591.91 56.67 L598.01 56.67 L594.96 62.46 Z" fill="#f01515" stroke="#b00000" stroke-width="0.5"/>
<path d="M598.85 55.47 L604.95 55.47 L601.9 61.26 Z" fill="#f01515" stroke="#b00000" stroke-width="0.5"/>
<path d="M605.79 54.67 L611.89 54.67 L608.84 60.46 Z" fill="#f01515" stroke="#b00000" stroke-width="0.5"/>
<path d="M612.73 53.97 L618.83 53.97 L615.78 59.76 Z" fill="#f01515" stroke="#b00000" stroke-width="0.5"/>
<path d="M619.67 53.27 L625.77 53.27 L622.72 59.06 Z" fill="#f01515" stroke="#b00000" stroke-width="0.5"/>
<path d="M626.61 53.27 L632.71 53.27 L629.66 59.06 Z" fill="#f01515" stroke="#b00000" stroke-width="0.5"/>
<path d="M633.55 54.07 L639.65 54.07 L636.6 59.86 Z" fill="#f01515" stroke="#b00000" stroke-width="0.5"/>
<path d="M640.49 55.67 L646.59 55.67 L643.54 61.46 Z" fill="#f01515" stroke="#b00000" stroke-width="0.5"/>
<rect x="481.17" y="66.05" width="5.5" height="5.5" fill="#2f4aa6" stroke="#1f3380" stroke-width="0.6"/>
<rect x="488.11" y="70.15" width="5.5" height="5.5" fill="#2f4aa6" stroke="#1f3380" stroke-width="0.6"/>
<rect x="495.05" y="75.15" width="5.5" height="5.5" fill="#2f4aa6" stroke="#1f3380" stroke-width="0.6"/>
<rect x="501.99" y="81.25" width="5.5" height="5.5" fill="#2f4aa6" stroke="#1f3380" stroke-width="0.6"/>
<rect x="508.93" y="89.25" width="5.5" height="5.5" fill="#2f4aa6" stroke="#1f3380" stroke-width="0.6"/>
<rect x="515.87" y="98.95" width="5.5" height="5.5" fill="#2f4aa6" stroke="#1f3380" stroke-width="0.6"/>
<rect x="522.81" y="109.55" width="5.5" height="5.5" fill="#2f4aa6" stroke="#1f3380" stroke-width="0.6"/>
<rect x="529.75" y="119.95" width="5.5" height="5.5" fill="#2f4aa6" stroke="#1f3380" stroke-width="0.6"/>
<rect x="536.69" y="128.25" width="5.5" height="5.5" fill="#2f4aa6" stroke="#1f3380" stroke-width="0.6"/>
<rect x="543.63" y="132.95" width="5.5" height="5.5" fill="#2f4aa6" stroke="#1f3380" stroke-width="0.6"/>
<rect x="550.57" y="131.05" width="5.5" height="5.5" fill="#2f4aa6" stroke="#1f3380" stroke-width="0.6"/>
<rect x="557.51" y="120.85" width="5.5" height="5.5" fill="#2f4aa6" stroke="#1f3380" stroke-width="0.6"/>
<rect x="564.45" y="102.05" width="5.5" height="5.5" fill="#2f4aa6" stroke="#1f3380" stroke-width="0.6"/>
<rect x="571.39" y="77.95" width="5.5" height="5.5" fill="#2f4aa6" stroke="#1f3380" stroke-width="0.6"/>
<rect x="578.33" y="54.25" width="5.5" height="5.5" fill="#2f4aa6" stroke="#1f3380" stroke-width="0.6"/>
<rect x="585.27" y="37.05" width="5.5" height="5.5" fill="#2f4aa6" stroke="#1f3380" stroke-width="0.6"/>
<rect x="592.21" y="25.55" width="5.5" height="5.5" fill="#2f4aa6" stroke="#1f3380" stroke-width="0.6"/>
<rect x="599.15" y="21.95" width="5.5" height="5.5" fill="#2f4aa6" stroke="#1f3380" stroke-width="0.6"/>
<rect x="606.09" y="23.25" width="5.5" height="5.5" fill="#2f4aa6" stroke="#1f3380" stroke-width="0.6"/>
<rect x="613.03" y="27.95" width="5.5" height="5.5" fill="#2f4aa6" stroke="#1f3380" stroke-width="0.6"/>
<rect x="619.97" y="33.55" width="5.5" height="5.5" fill="#2f4aa6" stroke="#1f3380" stroke-width="0.6"/>
<rect x="626.91" y="39.65" width="5.5" height="5.5" fill="#2f4aa6" stroke="#1f3380" stroke-width="0.6"/>
<rect x="633.85" y="44.85" width="5.5" height="5.5" fill="#2f4aa6" stroke="#1f3380" stroke-width="0.6"/>
<rect x="640.79" y="48.95" width="5.5" height="5.5" fill="#2f4aa6" stroke="#1f3380" stroke-width="0.6"/>
<path d="M483.92 58.6 L484.9 60.95 L487.44 61.16 L485.5 62.81 L486.09 65.29 L483.92 63.96 L481.75 65.29 L482.34 62.81 L480.4 61.16 L482.94 60.95 Z" fill="#1c8a2c" stroke="#0f5c1a" stroke-width="0.5"/>
<path d="M490.86 58.6 L491.84 60.95 L494.38 61.16 L492.44 62.81 L493.03 65.29 L490.86 63.96 L488.69 65.29 L489.28 62.81 L487.34 61.16 L489.88 60.95 Z" fill="#1c8a2c" stroke="#0f5c1a" stroke-width="0.5"/>
<path d="M497.8 58.6 L498.78 60.95 L501.32 61.16 L499.38 62.81 L499.97 65.29 L497.8 63.96 L495.63 65.29 L496.22 62.81 L494.28 61.16 L496.82 60.95 Z" fill="#1c8a2c" stroke="#0f5c1a" stroke-width="0.5"/>
<path d="M504.74 58.6 L505.72 60.95 L508.26 61.16 L506.32 62.81 L506.91 65.29 L504.74 63.96 L502.57 65.29 L503.16 62.81 L501.22 61.16 L503.76 60.95 Z" fill="#1c8a2c" stroke="#0f5c1a" stroke-width="0.5"/>
<path d="M511.68 58.6 L512.66 60.95 L515.2 61.16 L513.26 62.81 L513.85 65.29 L511.68 63.96 L509.51 65.29 L510.1 62.81 L508.16 61.16 L510.7 60.95 Z" fill="#1c8a2c" stroke="#0f5c1a" stroke-width="0.5"/>
<path d="M518.62 58.6 L519.6 60.95 L522.14 61.16 L520.2 62.81 L520.79 65.29 L518.62 63.96 L516.45 65.29 L517.04 62.81 L515.1 61.16 L517.64 60.95 Z" fill="#1c8a2c" stroke="#0f5c1a" stroke-width="0.5"/>
<path d="M525.56 58.6 L526.54 60.95 L529.08 61.16 L527.14 62.81 L527.73 65.29 L525.56 63.96 L523.39 65.29 L523.98 62.81 L522.04 61.16 L524.58 60.95 Z" fill="#1c8a2c" stroke="#0f5c1a" stroke-width="0.5"/>
<path d="M532.5 58.6 L533.48 60.95 L536.02 61.16 L534.08 62.81 L534.67 65.29 L532.5 63.96 L530.33 65.29 L530.92 62.81 L528.98 61.16 L531.52 60.95 Z" fill="#1c8a2c" stroke="#0f5c1a" stroke-width="0.5"/>
<path d="M539.44 58.6 L540.42 60.95 L542.96 61.16 L541.02 62.81 L541.61 65.29 L539.44 63.96 L537.27 65.29 L537.86 62.81 L535.92 61.16 L538.46 60.95 Z" fill="#1c8a2c" stroke="#0f5c1a" stroke-width="0.5"/>
<path d="M546.38 58.6 L547.36 60.95 L549.9 61.16 L547.96 62.81 L548.55 65.29 L546.38 63.96 L544.21 65.29 L544.8 62.81 L542.86 61.16 L545.4 60.95 Z" fill="#1c8a2c" stroke="#0f5c1a" stroke-width="0.5"/>
<path d="M553.32 58.6 L554.3 60.95 L556.84 61.16 L554.9 62.81 L555.49 65.29 L553.32 63.96 L551.15 65.29 L551.74 62.81 L549.8 61.16 L552.34 60.95 Z" fill="#1c8a2c" stroke="#0f5c1a" stroke-width="0.5"/>
<path d="M560.26 58.6 L561.24 60.95 L563.78 61.16 L561.84 62.81 L562.43 65.29 L560.26 63.96 L558.09 65.29 L558.68 62.81 L556.74 61.16 L559.28 60.95 Z" fill="#1c8a2c" stroke="#0f5c1a" stroke-width="0.5"/>
<path d="M567.2 58.9 L568.18 61.25 L570.72 61.46 L568.78 63.11 L569.37 65.59 L567.2 64.27 L565.03 65.59 L565.62 63.11 L563.68 61.46 L566.22 61.25 Z" fill="#1c8a2c" stroke="#0f5c1a" stroke-width="0.5"/>
<path d="M574.14 57.6 L575.12 59.95 L577.66 60.16 L575.72 61.81 L576.31 64.29 L574.14 62.96 L571.97 64.29 L572.56 61.81 L570.62 60.16 L573.16 59.95 Z" fill="#1c8a2c" stroke="#0f5c1a" stroke-width="0.5"/>
<path d="M581.08 52.1 L582.06 54.45 L584.6 54.66 L582.66 56.31 L583.25 58.79 L581.08 57.46 L578.91 58.79 L579.5 56.31 L577.56 54.66 L580.1 54.45 Z" fill="#1c8a2c" stroke="#0f5c1a" stroke-width="0.5"/>
<path d="M588.02 43.9 L589 46.25 L591.54 46.46 L589.6 48.11 L590.19 50.59 L588.02 49.27 L585.85 50.59 L586.44 48.11 L584.5 46.46 L587.04 46.25 Z" fill="#1c8a2c" stroke="#0f5c1a" stroke-width="0.5"/>
<path d="M594.96 34.5 L595.94 36.85 L598.48 37.06 L596.54 38.71 L597.13 41.19 L594.96 39.86 L592.79 41.19 L593.38 38.71 L591.44 37.06 L593.98 36.85 Z" fill="#1c8a2c" stroke="#0f5c1a" stroke-width="0.5"/>
<path d="M601.9 27.8 L602.88 30.15 L605.42 30.36 L603.48 32.01 L604.07 34.49 L601.9 33.16 L599.73 34.49 L600.32 32.01 L598.38 30.36 L600.92 30.15 Z" fill="#1c8a2c" stroke="#0f5c1a" stroke-width="0.5"/>
<path d="M608.84 26.5 L609.82 28.85 L612.36 29.06 L610.42 30.71 L611.01 33.19 L608.84 31.86 L606.67 33.19 L607.26 30.71 L605.32 29.06 L607.86 28.85 Z" fill="#1c8a2c" stroke="#0f5c1a" stroke-width="0.5"/>
<path d="M615.78 28.4 L616.76 30.75 L619.3 30.96 L617.36 32.61 L617.95 35.09 L615.78 33.77 L613.61 35.09 L614.2 32.61 L612.26 30.96 L614.8 30.75 Z" fill="#1c8a2c" stroke="#0f5c1a" stroke-width="0.5"/>
<path d="M622.72 32.9 L623.7 35.25 L626.24 35.46 L624.3 37.11 L624.89 39.59 L622.72 38.27 L620.55 39.59 L621.14 37.11 L619.2 35.46 L621.74 35.25 Z" fill="#1c8a2c" stroke="#0f5c1a" stroke-width="0.5"/>
<path d="M629.66 39 L630.64 41.35 L633.18 41.56 L631.24 43.21 L631.83 45.69 L629.66 44.36 L627.49 45.69 L628.08 43.21 L626.14 41.56 L628.68 41.35 Z" fill="#1c8a2c" stroke="#0f5c1a" stroke-width="0.5"/>
<path d="M636.6 44.4 L637.58 46.75 L640.12 46.96 L638.18 48.61 L638.77 51.09 L636.6 49.77 L634.43 51.09 L635.02 48.61 L633.08 46.96 L635.62 46.75 Z" fill="#1c8a2c" stroke="#0f5c1a" stroke-width="0.5"/>
<path d="M643.54 48.3 L644.52 50.65 L647.06 50.86 L645.12 52.51 L645.71 54.99 L643.54 53.66 L641.37 54.99 L641.96 52.51 L640.02 50.86 L642.56 50.65 Z" fill="#1c8a2c" stroke="#0f5c1a" stroke-width="0.5"/>
<path d="M484.6 61.6 C495.83 61.58 539.27 61.67 552 61.5 C564.73 61.33 558.07 61.22 561 60.6 C563.93 59.98 567.35 58.9 569.6 57.8 C571.85 56.7 573.12 55.27 574.5 54 C575.88 52.73 576.87 51.4 577.9 50.2 C578.93 49 579.77 48.1 580.7 46.8 C581.63 45.5 582.02 44.62 583.5 42.4 C584.98 40.18 587.65 36.07 589.6 33.5 C591.55 30.93 593.15 28.52 595.2 27 C597.25 25.48 599.75 24.68 601.9 24.4 C604.05 24.12 606.05 24.7 608.1 25.3 C610.15 25.9 612.15 26.73 614.2 28 C616.25 29.27 617.93 30.75 620.4 32.9 C622.87 35.05 625.93 38.23 629 40.9 C632.07 43.57 635.8 46.8 638.8 48.9 C641.8 51 645.63 52.73 647 53.5" fill="none" stroke="#a02ca0" stroke-width="2.0" stroke-dasharray="5.5 3.7"/>
</g>
<rect x="484.6" y="21.3" width="161.7" height="122.4" fill="none" stroke="#6e6e6e" stroke-width="1.3"/>
<line x1="484.5" y1="143.7" x2="484.5" y2="146.7" stroke="#6e6e6e" stroke-width="1.0"/>
<line x1="523.9" y1="143.7" x2="523.9" y2="146.7" stroke="#6e6e6e" stroke-width="1.0"/>
<line x1="563.3" y1="143.7" x2="563.3" y2="146.7" stroke="#6e6e6e" stroke-width="1.0"/>
<line x1="602.7" y1="143.7" x2="602.7" y2="146.7" stroke="#6e6e6e" stroke-width="1.0"/>
<line x1="642.1" y1="143.7" x2="642.1" y2="146.7" stroke="#6e6e6e" stroke-width="1.0"/>
<line x1="496.36" y1="143.7" x2="496.36" y2="145.5" stroke="#6e6e6e" stroke-width="0.8"/>
<line x1="503.3" y1="143.7" x2="503.3" y2="145.5" stroke="#6e6e6e" stroke-width="0.8"/>
<line x1="508.22" y1="143.7" x2="508.22" y2="145.5" stroke="#6e6e6e" stroke-width="0.8"/>
<line x1="512.04" y1="143.7" x2="512.04" y2="145.5" stroke="#6e6e6e" stroke-width="0.8"/>
<line x1="515.16" y1="143.7" x2="515.16" y2="145.5" stroke="#6e6e6e" stroke-width="0.8"/>
<line x1="517.8" y1="143.7" x2="517.8" y2="145.5" stroke="#6e6e6e" stroke-width="0.8"/>
<line x1="520.08" y1="143.7" x2="520.08" y2="145.5" stroke="#6e6e6e" stroke-width="0.8"/>
<line x1="522.1" y1="143.7" x2="522.1" y2="145.5" stroke="#6e6e6e" stroke-width="0.8"/>
<line x1="535.76" y1="143.7" x2="535.76" y2="145.5" stroke="#6e6e6e" stroke-width="0.8"/>
<line x1="542.7" y1="143.7" x2="542.7" y2="145.5" stroke="#6e6e6e" stroke-width="0.8"/>
<line x1="547.62" y1="143.7" x2="547.62" y2="145.5" stroke="#6e6e6e" stroke-width="0.8"/>
<line x1="551.44" y1="143.7" x2="551.44" y2="145.5" stroke="#6e6e6e" stroke-width="0.8"/>
<line x1="554.56" y1="143.7" x2="554.56" y2="145.5" stroke="#6e6e6e" stroke-width="0.8"/>
<line x1="557.2" y1="143.7" x2="557.2" y2="145.5" stroke="#6e6e6e" stroke-width="0.8"/>
<line x1="559.48" y1="143.7" x2="559.48" y2="145.5" stroke="#6e6e6e" stroke-width="0.8"/>
<line x1="561.5" y1="143.7" x2="561.5" y2="145.5" stroke="#6e6e6e" stroke-width="0.8"/>
<line x1="575.16" y1="143.7" x2="575.16" y2="145.5" stroke="#6e6e6e" stroke-width="0.8"/>
<line x1="582.1" y1="143.7" x2="582.1" y2="145.5" stroke="#6e6e6e" stroke-width="0.8"/>
<line x1="587.02" y1="143.7" x2="587.02" y2="145.5" stroke="#6e6e6e" stroke-width="0.8"/>
<line x1="590.84" y1="143.7" x2="590.84" y2="145.5" stroke="#6e6e6e" stroke-width="0.8"/>
<line x1="593.96" y1="143.7" x2="593.96" y2="145.5" stroke="#6e6e6e" stroke-width="0.8"/>
<line x1="596.6" y1="143.7" x2="596.6" y2="145.5" stroke="#6e6e6e" stroke-width="0.8"/>
<line x1="598.88" y1="143.7" x2="598.88" y2="145.5" stroke="#6e6e6e" stroke-width="0.8"/>
<line x1="600.9" y1="143.7" x2="600.9" y2="145.5" stroke="#6e6e6e" stroke-width="0.8"/>
<line x1="614.56" y1="143.7" x2="614.56" y2="145.5" stroke="#6e6e6e" stroke-width="0.8"/>
<line x1="621.5" y1="143.7" x2="621.5" y2="145.5" stroke="#6e6e6e" stroke-width="0.8"/>
<line x1="626.42" y1="143.7" x2="626.42" y2="145.5" stroke="#6e6e6e" stroke-width="0.8"/>
<line x1="630.24" y1="143.7" x2="630.24" y2="145.5" stroke="#6e6e6e" stroke-width="0.8"/>
<line x1="633.36" y1="143.7" x2="633.36" y2="145.5" stroke="#6e6e6e" stroke-width="0.8"/>
<line x1="636" y1="143.7" x2="636" y2="145.5" stroke="#6e6e6e" stroke-width="0.8"/>
<line x1="638.28" y1="143.7" x2="638.28" y2="145.5" stroke="#6e6e6e" stroke-width="0.8"/>
<line x1="640.3" y1="143.7" x2="640.3" y2="145.5" stroke="#6e6e6e" stroke-width="0.8"/>
<line x1="481.6" y1="21.3" x2="484.6" y2="21.3" stroke="#6e6e6e" stroke-width="1.0"/>
<line x1="481.6" y1="62.1" x2="484.6" y2="62.1" stroke="#6e6e6e" stroke-width="1.0"/>
<line x1="481.6" y1="102.9" x2="484.6" y2="102.9" stroke="#6e6e6e" stroke-width="1.0"/>
<line x1="481.6" y1="143.7" x2="484.6" y2="143.7" stroke="#6e6e6e" stroke-width="1.0"/>
<text x="478" y="24.6" font-size="9.5" fill="#333" stroke="#333" stroke-width="0.15" text-anchor="end">3</text>
<text x="478" y="65.4" font-size="9.5" fill="#333" stroke="#333" stroke-width="0.15" text-anchor="end">0</text>
<text x="478" y="106.2" font-size="9.5" fill="#333" stroke="#333" stroke-width="0.15" text-anchor="end">−3</text>
<text x="478" y="147" font-size="9.5" fill="#333" stroke="#333" stroke-width="0.15" text-anchor="end">−6</text>
<text x="491" y="33.7" font-size="23" fill="#000" stroke="#000" stroke-width="0.0" text-anchor="start">e</text>
<text transform="translate(458.5 82.9) rotate(-90)" font-size="12.8" fill="#333" stroke="#333" stroke-width="0.1" text-anchor="middle"><tspan font-style="italic">β</tspan><tspan> (⟨</tspan><tspan font-style="italic">W</tspan><tspan>⟩</tspan><tspan dy="3.07" font-size="8.7">naive</tspan><tspan dy="-3.07"> − ⟨</tspan><tspan font-style="italic">W</tspan><tspan>⟩</tspan><tspan dy="3.07" font-size="8.7">des</tspan><tspan dy="-3.07">)</tspan></text>
<line x1="484.6" y1="271.9" x2="646.3" y2="271.9" stroke="#3a3a3a" stroke-width="1.5" stroke-dasharray="1.5 3.4" stroke-dashoffset="0" stroke-linecap="butt"/>
<line x1="602.3" y1="173.9" x2="602.3" y2="296.2" stroke="#777" stroke-width="1" stroke-dasharray="6 1.6 0.8 1.6"/>
<g clip-path="url(#cf)">
<path d="M480.87 269.37 L486.97 269.37 L483.92 275.16 Z" fill="#f01515" stroke="#b00000" stroke-width="0.5"/>
<path d="M487.81 269.37 L493.91 269.37 L490.86 275.16 Z" fill="#f01515" stroke="#b00000" stroke-width="0.5"/>
<path d="M494.75 269.37 L500.85 269.37 L497.8 275.16 Z" fill="#f01515" stroke="#b00000" stroke-width="0.5"/>
<path d="M501.69 269.37 L507.79 269.37 L504.74 275.16 Z" fill="#f01515" stroke="#b00000" stroke-width="0.5"/>
<path d="M508.63 269.37 L514.73 269.37 L511.68 275.16 Z" fill="#f01515" stroke="#b00000" stroke-width="0.5"/>
<path d="M515.57 269.37 L521.67 269.37 L518.62 275.16 Z" fill="#f01515" stroke="#b00000" stroke-width="0.5"/>
<path d="M522.51 269.37 L528.61 269.37 L525.56 275.16 Z" fill="#f01515" stroke="#b00000" stroke-width="0.5"/>
<path d="M529.45 269.37 L535.55 269.37 L532.5 275.16 Z" fill="#f01515" stroke="#b00000" stroke-width="0.5"/>
<path d="M536.39 269.37 L542.49 269.37 L539.44 275.16 Z" fill="#f01515" stroke="#b00000" stroke-width="0.5"/>
<path d="M543.33 269.37 L549.43 269.37 L546.38 275.16 Z" fill="#f01515" stroke="#b00000" stroke-width="0.5"/>
<path d="M550.27 269.37 L556.37 269.37 L553.32 275.16 Z" fill="#f01515" stroke="#b00000" stroke-width="0.5"/>
<path d="M557.21 269.37 L563.31 269.37 L560.26 275.16 Z" fill="#f01515" stroke="#b00000" stroke-width="0.5"/>
<path d="M564.15 272.17 L570.25 272.17 L567.2 277.96 Z" fill="#f01515" stroke="#b00000" stroke-width="0.5"/>
<path d="M571.09 273.17 L577.19 273.17 L574.14 278.96 Z" fill="#f01515" stroke="#b00000" stroke-width="0.5"/>
<path d="M578.03 276.27 L584.13 276.27 L581.08 282.06 Z" fill="#f01515" stroke="#b00000" stroke-width="0.5"/>
<path d="M584.97 280.47 L591.07 280.47 L588.02 286.26 Z" fill="#f01515" stroke="#b00000" stroke-width="0.5"/>
<path d="M591.91 284.27 L598.01 284.27 L594.96 290.06 Z" fill="#f01515" stroke="#b00000" stroke-width="0.5"/>
<path d="M598.85 287.27 L604.95 287.27 L601.9 293.06 Z" fill="#f01515" stroke="#b00000" stroke-width="0.5"/>
<path d="M605.79 287.57 L611.89 287.57 L608.84 293.36 Z" fill="#f01515" stroke="#b00000" stroke-width="0.5"/>
<path d="M612.73 285.47 L618.83 285.47 L615.78 291.26 Z" fill="#f01515" stroke="#b00000" stroke-width="0.5"/>
<path d="M619.67 279.67 L625.77 279.67 L622.72 285.46 Z" fill="#f01515" stroke="#b00000" stroke-width="0.5"/>
<path d="M626.61 274.97 L632.71 274.97 L629.66 280.76 Z" fill="#f01515" stroke="#b00000" stroke-width="0.5"/>
<path d="M633.55 272.17 L639.65 272.17 L636.6 277.96 Z" fill="#f01515" stroke="#b00000" stroke-width="0.5"/>
<path d="M640.49 271.07 L646.59 271.07 L643.54 276.86 Z" fill="#f01515" stroke="#b00000" stroke-width="0.5"/>
<rect x="481.17" y="268.65" width="5.5" height="5.5" fill="#2f4aa6" stroke="#1f3380" stroke-width="0.6"/>
<rect x="488.11" y="268.65" width="5.5" height="5.5" fill="#2f4aa6" stroke="#1f3380" stroke-width="0.6"/>
<rect x="495.05" y="268.65" width="5.5" height="5.5" fill="#2f4aa6" stroke="#1f3380" stroke-width="0.6"/>
<rect x="501.99" y="268.65" width="5.5" height="5.5" fill="#2f4aa6" stroke="#1f3380" stroke-width="0.6"/>
<rect x="508.93" y="268.65" width="5.5" height="5.5" fill="#2f4aa6" stroke="#1f3380" stroke-width="0.6"/>
<rect x="515.87" y="268.65" width="5.5" height="5.5" fill="#2f4aa6" stroke="#1f3380" stroke-width="0.6"/>
<rect x="522.81" y="268.65" width="5.5" height="5.5" fill="#2f4aa6" stroke="#1f3380" stroke-width="0.6"/>
<rect x="529.75" y="268.65" width="5.5" height="5.5" fill="#2f4aa6" stroke="#1f3380" stroke-width="0.6"/>
<rect x="536.69" y="265.25" width="5.5" height="5.5" fill="#2f4aa6" stroke="#1f3380" stroke-width="0.6"/>
<rect x="543.63" y="256.75" width="5.5" height="5.5" fill="#2f4aa6" stroke="#1f3380" stroke-width="0.6"/>
<rect x="550.57" y="236.95" width="5.5" height="5.5" fill="#2f4aa6" stroke="#1f3380" stroke-width="0.6"/>
<rect x="557.51" y="213.95" width="5.5" height="5.5" fill="#2f4aa6" stroke="#1f3380" stroke-width="0.6"/>
<rect x="564.45" y="198.25" width="5.5" height="5.5" fill="#2f4aa6" stroke="#1f3380" stroke-width="0.6"/>
<rect x="571.39" y="192.35" width="5.5" height="5.5" fill="#2f4aa6" stroke="#1f3380" stroke-width="0.6"/>
<rect x="578.33" y="196.05" width="5.5" height="5.5" fill="#2f4aa6" stroke="#1f3380" stroke-width="0.6"/>
<rect x="585.27" y="206.05" width="5.5" height="5.5" fill="#2f4aa6" stroke="#1f3380" stroke-width="0.6"/>
<rect x="592.21" y="219.85" width="5.5" height="5.5" fill="#2f4aa6" stroke="#1f3380" stroke-width="0.6"/>
<rect x="599.15" y="235.45" width="5.5" height="5.5" fill="#2f4aa6" stroke="#1f3380" stroke-width="0.6"/>
<rect x="606.09" y="249.85" width="5.5" height="5.5" fill="#2f4aa6" stroke="#1f3380" stroke-width="0.6"/>
<rect x="613.03" y="260.55" width="5.5" height="5.5" fill="#2f4aa6" stroke="#1f3380" stroke-width="0.6"/>
<rect x="619.97" y="266.65" width="5.5" height="5.5" fill="#2f4aa6" stroke="#1f3380" stroke-width="0.6"/>
<rect x="626.91" y="268.75" width="5.5" height="5.5" fill="#2f4aa6" stroke="#1f3380" stroke-width="0.6"/>
<rect x="633.85" y="269.15" width="5.5" height="5.5" fill="#2f4aa6" stroke="#1f3380" stroke-width="0.6"/>
<rect x="640.79" y="269.15" width="5.5" height="5.5" fill="#2f4aa6" stroke="#1f3380" stroke-width="0.6"/>
<path d="M483.92 268.5 L484.9 270.85 L487.44 271.06 L485.5 272.71 L486.09 275.19 L483.92 273.87 L481.75 275.19 L482.34 272.71 L480.4 271.06 L482.94 270.85 Z" fill="#1c8a2c" stroke="#0f5c1a" stroke-width="0.5"/>
<path d="M490.86 268.5 L491.84 270.85 L494.38 271.06 L492.44 272.71 L493.03 275.19 L490.86 273.87 L488.69 275.19 L489.28 272.71 L487.34 271.06 L489.88 270.85 Z" fill="#1c8a2c" stroke="#0f5c1a" stroke-width="0.5"/>
<path d="M497.8 268.5 L498.78 270.85 L501.32 271.06 L499.38 272.71 L499.97 275.19 L497.8 273.87 L495.63 275.19 L496.22 272.71 L494.28 271.06 L496.82 270.85 Z" fill="#1c8a2c" stroke="#0f5c1a" stroke-width="0.5"/>
<path d="M504.74 268.5 L505.72 270.85 L508.26 271.06 L506.32 272.71 L506.91 275.19 L504.74 273.87 L502.57 275.19 L503.16 272.71 L501.22 271.06 L503.76 270.85 Z" fill="#1c8a2c" stroke="#0f5c1a" stroke-width="0.5"/>
<path d="M511.68 268.5 L512.66 270.85 L515.2 271.06 L513.26 272.71 L513.85 275.19 L511.68 273.87 L509.51 275.19 L510.1 272.71 L508.16 271.06 L510.7 270.85 Z" fill="#1c8a2c" stroke="#0f5c1a" stroke-width="0.5"/>
<path d="M518.62 268.5 L519.6 270.85 L522.14 271.06 L520.2 272.71 L520.79 275.19 L518.62 273.87 L516.45 275.19 L517.04 272.71 L515.1 271.06 L517.64 270.85 Z" fill="#1c8a2c" stroke="#0f5c1a" stroke-width="0.5"/>
<path d="M525.56 268.5 L526.54 270.85 L529.08 271.06 L527.14 272.71 L527.73 275.19 L525.56 273.87 L523.39 275.19 L523.98 272.71 L522.04 271.06 L524.58 270.85 Z" fill="#1c8a2c" stroke="#0f5c1a" stroke-width="0.5"/>
<path d="M532.5 268.5 L533.48 270.85 L536.02 271.06 L534.08 272.71 L534.67 275.19 L532.5 273.87 L530.33 275.19 L530.92 272.71 L528.98 271.06 L531.52 270.85 Z" fill="#1c8a2c" stroke="#0f5c1a" stroke-width="0.5"/>
<path d="M539.44 268.5 L540.42 270.85 L542.96 271.06 L541.02 272.71 L541.61 275.19 L539.44 273.87 L537.27 275.19 L537.86 272.71 L535.92 271.06 L538.46 270.85 Z" fill="#1c8a2c" stroke="#0f5c1a" stroke-width="0.5"/>
<path d="M546.38 268.5 L547.36 270.85 L549.9 271.06 L547.96 272.71 L548.55 275.19 L546.38 273.87 L544.21 275.19 L544.8 272.71 L542.86 271.06 L545.4 270.85 Z" fill="#1c8a2c" stroke="#0f5c1a" stroke-width="0.5"/>
<path d="M553.32 268.5 L554.3 270.85 L556.84 271.06 L554.9 272.71 L555.49 275.19 L553.32 273.87 L551.15 275.19 L551.74 272.71 L549.8 271.06 L552.34 270.85 Z" fill="#1c8a2c" stroke="#0f5c1a" stroke-width="0.5"/>
<path d="M560.26 268.5 L561.24 270.85 L563.78 271.06 L561.84 272.71 L562.43 275.19 L560.26 273.87 L558.09 275.19 L558.68 272.71 L556.74 271.06 L559.28 270.85 Z" fill="#1c8a2c" stroke="#0f5c1a" stroke-width="0.5"/>
<path d="M567.2 267.5 L568.18 269.85 L570.72 270.06 L568.78 271.71 L569.37 274.19 L567.2 272.87 L565.03 274.19 L565.62 271.71 L563.68 270.06 L566.22 269.85 Z" fill="#1c8a2c" stroke="#0f5c1a" stroke-width="0.5"/>
<path d="M574.14 265.7 L575.12 268.05 L577.66 268.26 L575.72 269.91 L576.31 272.39 L574.14 271.06 L571.97 272.39 L572.56 269.91 L570.62 268.26 L573.16 268.05 Z" fill="#1c8a2c" stroke="#0f5c1a" stroke-width="0.5"/>
<path d="M581.08 262 L582.06 264.35 L584.6 264.56 L582.66 266.21 L583.25 268.69 L581.08 267.37 L578.91 268.69 L579.5 266.21 L577.56 264.56 L580.1 264.35 Z" fill="#1c8a2c" stroke="#0f5c1a" stroke-width="0.5"/>
<path d="M588.02 255.8 L589 258.15 L591.54 258.36 L589.6 260.01 L590.19 262.49 L588.02 261.17 L585.85 262.49 L586.44 260.01 L584.5 258.36 L587.04 258.15 Z" fill="#1c8a2c" stroke="#0f5c1a" stroke-width="0.5"/>
<path d="M594.96 250.8 L595.94 253.15 L598.48 253.36 L596.54 255.01 L597.13 257.49 L594.96 256.16 L592.79 257.49 L593.38 255.01 L591.44 253.36 L593.98 253.15 Z" fill="#1c8a2c" stroke="#0f5c1a" stroke-width="0.5"/>
<path d="M601.9 252 L602.88 254.35 L605.42 254.56 L603.48 256.21 L604.07 258.69 L601.9 257.37 L599.73 258.69 L600.32 256.21 L598.38 254.56 L600.92 254.35 Z" fill="#1c8a2c" stroke="#0f5c1a" stroke-width="0.5"/>
<path d="M608.84 257.7 L609.82 260.05 L612.36 260.26 L610.42 261.91 L611.01 264.39 L608.84 263.06 L606.67 264.39 L607.26 261.91 L605.32 260.26 L607.86 260.05 Z" fill="#1c8a2c" stroke="#0f5c1a" stroke-width="0.5"/>
<path d="M615.78 263.9 L616.76 266.25 L619.3 266.46 L617.36 268.11 L617.95 270.59 L615.78 269.26 L613.61 270.59 L614.2 268.11 L612.26 266.46 L614.8 266.25 Z" fill="#1c8a2c" stroke="#0f5c1a" stroke-width="0.5"/>
<path d="M622.72 267.1 L623.7 269.45 L626.24 269.66 L624.3 271.31 L624.89 273.79 L622.72 272.46 L620.55 273.79 L621.14 271.31 L619.2 269.66 L621.74 269.45 Z" fill="#1c8a2c" stroke="#0f5c1a" stroke-width="0.5"/>
<path d="M629.66 268.6 L630.64 270.95 L633.18 271.16 L631.24 272.81 L631.83 275.29 L629.66 273.96 L627.49 275.29 L628.08 272.81 L626.14 271.16 L628.68 270.95 Z" fill="#1c8a2c" stroke="#0f5c1a" stroke-width="0.5"/>
<path d="M636.6 269.1 L637.58 271.45 L640.12 271.66 L638.18 273.31 L638.77 275.79 L636.6 274.46 L634.43 275.79 L635.02 273.31 L633.08 271.66 L635.62 271.45 Z" fill="#1c8a2c" stroke="#0f5c1a" stroke-width="0.5"/>
<path d="M643.54 269.3 L644.52 271.65 L647.06 271.86 L645.12 273.51 L645.71 275.99 L643.54 274.67 L641.37 275.99 L641.96 273.51 L640.02 271.86 L642.56 271.65 Z" fill="#1c8a2c" stroke="#0f5c1a" stroke-width="0.5"/>
<path d="M484.6 271.8 C497.5 271.77 548.48 271.98 562 271.6 C575.52 271.22 564.32 270.92 565.7 269.5 C567.08 268.08 568.67 266.65 570.3 263.1 C571.93 259.55 573.8 253.13 575.5 248.2 C577.2 243.27 579 237.37 580.5 233.5 C582 229.63 583.22 227.12 584.5 225 C585.78 222.88 586.87 221.13 588.2 220.8 C589.53 220.47 591.12 221.55 592.5 223 C593.88 224.45 594.95 226.83 596.5 229.5 C598.05 232.17 599.97 235.72 601.8 239 C603.63 242.28 605.52 246.03 607.5 249.2 C609.48 252.37 611.6 255.13 613.7 258 C615.8 260.87 618.13 264.43 620.1 266.4 C622.07 268.37 623.35 268.98 625.5 269.8 C627.65 270.62 629.42 270.93 633 271.3 C636.58 271.67 644.67 271.88 647 272" fill="none" stroke="#a02ca0" stroke-width="2.0" stroke-dasharray="5.5 3.7"/>
</g>
<rect x="484.6" y="173.9" width="161.7" height="122.3" fill="none" stroke="#6e6e6e" stroke-width="1.3"/>
<line x1="484.5" y1="296.2" x2="484.5" y2="299.2" stroke="#6e6e6e" stroke-width="1.0"/>
<line x1="523.9" y1="296.2" x2="523.9" y2="299.2" stroke="#6e6e6e" stroke-width="1.0"/>
<line x1="563.3" y1="296.2" x2="563.3" y2="299.2" stroke="#6e6e6e" stroke-width="1.0"/>
<line x1="602.7" y1="296.2" x2="602.7" y2="299.2" stroke="#6e6e6e" stroke-width="1.0"/>
<line x1="642.1" y1="296.2" x2="642.1" y2="299.2" stroke="#6e6e6e" stroke-width="1.0"/>
<line x1="496.36" y1="296.2" x2="496.36" y2="298" stroke="#6e6e6e" stroke-width="0.8"/>
<line x1="503.3" y1="296.2" x2="503.3" y2="298" stroke="#6e6e6e" stroke-width="0.8"/>
<line x1="508.22" y1="296.2" x2="508.22" y2="298" stroke="#6e6e6e" stroke-width="0.8"/>
<line x1="512.04" y1="296.2" x2="512.04" y2="298" stroke="#6e6e6e" stroke-width="0.8"/>
<line x1="515.16" y1="296.2" x2="515.16" y2="298" stroke="#6e6e6e" stroke-width="0.8"/>
<line x1="517.8" y1="296.2" x2="517.8" y2="298" stroke="#6e6e6e" stroke-width="0.8"/>
<line x1="520.08" y1="296.2" x2="520.08" y2="298" stroke="#6e6e6e" stroke-width="0.8"/>
<line x1="522.1" y1="296.2" x2="522.1" y2="298" stroke="#6e6e6e" stroke-width="0.8"/>
<line x1="535.76" y1="296.2" x2="535.76" y2="298" stroke="#6e6e6e" stroke-width="0.8"/>
<line x1="542.7" y1="296.2" x2="542.7" y2="298" stroke="#6e6e6e" stroke-width="0.8"/>
<line x1="547.62" y1="296.2" x2="547.62" y2="298" stroke="#6e6e6e" stroke-width="0.8"/>
<line x1="551.44" y1="296.2" x2="551.44" y2="298" stroke="#6e6e6e" stroke-width="0.8"/>
<line x1="554.56" y1="296.2" x2="554.56" y2="298" stroke="#6e6e6e" stroke-width="0.8"/>
<line x1="557.2" y1="296.2" x2="557.2" y2="298" stroke="#6e6e6e" stroke-width="0.8"/>
<line x1="559.48" y1="296.2" x2="559.48" y2="298" stroke="#6e6e6e" stroke-width="0.8"/>
<line x1="561.5" y1="296.2" x2="561.5" y2="298" stroke="#6e6e6e" stroke-width="0.8"/>
<line x1="575.16" y1="296.2" x2="575.16" y2="298" stroke="#6e6e6e" stroke-width="0.8"/>
<line x1="582.1" y1="296.2" x2="582.1" y2="298" stroke="#6e6e6e" stroke-width="0.8"/>
<line x1="587.02" y1="296.2" x2="587.02" y2="298" stroke="#6e6e6e" stroke-width="0.8"/>
<line x1="590.84" y1="296.2" x2="590.84" y2="298" stroke="#6e6e6e" stroke-width="0.8"/>
<line x1="593.96" y1="296.2" x2="593.96" y2="298" stroke="#6e6e6e" stroke-width="0.8"/>
<line x1="596.6" y1="296.2" x2="596.6" y2="298" stroke="#6e6e6e" stroke-width="0.8"/>
<line x1="598.88" y1="296.2" x2="598.88" y2="298" stroke="#6e6e6e" stroke-width="0.8"/>
<line x1="600.9" y1="296.2" x2="600.9" y2="298" stroke="#6e6e6e" stroke-width="0.8"/>
<line x1="614.56" y1="296.2" x2="614.56" y2="298" stroke="#6e6e6e" stroke-width="0.8"/>
<line x1="621.5" y1="296.2" x2="621.5" y2="298" stroke="#6e6e6e" stroke-width="0.8"/>
<line x1="626.42" y1="296.2" x2="626.42" y2="298" stroke="#6e6e6e" stroke-width="0.8"/>
<line x1="630.24" y1="296.2" x2="630.24" y2="298" stroke="#6e6e6e" stroke-width="0.8"/>
<line x1="633.36" y1="296.2" x2="633.36" y2="298" stroke="#6e6e6e" stroke-width="0.8"/>
<line x1="636" y1="296.2" x2="636" y2="298" stroke="#6e6e6e" stroke-width="0.8"/>
<line x1="638.28" y1="296.2" x2="638.28" y2="298" stroke="#6e6e6e" stroke-width="0.8"/>
<line x1="640.3" y1="296.2" x2="640.3" y2="298" stroke="#6e6e6e" stroke-width="0.8"/>
<line x1="481.6" y1="173.9" x2="484.6" y2="173.9" stroke="#6e6e6e" stroke-width="1.0"/>
<line x1="481.6" y1="198.38" x2="484.6" y2="198.38" stroke="#6e6e6e" stroke-width="1.0"/>
<line x1="481.6" y1="222.85" x2="484.6" y2="222.85" stroke="#6e6e6e" stroke-width="1.0"/>
<line x1="481.6" y1="247.33" x2="484.6" y2="247.33" stroke="#6e6e6e" stroke-width="1.0"/>
<line x1="481.6" y1="271.8" x2="484.6" y2="271.8" stroke="#6e6e6e" stroke-width="1.0"/>
<line x1="481.6" y1="296.28" x2="484.6" y2="296.28" stroke="#6e6e6e" stroke-width="1.0"/>
<text x="478" y="177.2" font-size="9.5" fill="#333" stroke="#333" stroke-width="0.15" text-anchor="end">1</text>
<text x="478" y="201.68" font-size="9.5" fill="#333" stroke="#333" stroke-width="0.15" text-anchor="end">0.75</text>
<text x="478" y="226.15" font-size="9.5" fill="#333" stroke="#333" stroke-width="0.15" text-anchor="end">0.5</text>
<text x="478" y="250.63" font-size="9.5" fill="#333" stroke="#333" stroke-width="0.15" text-anchor="end">0.25</text>
<text x="478" y="275.1" font-size="9.5" fill="#333" stroke="#333" stroke-width="0.15" text-anchor="end">0</text>
<text x="478" y="299.58" font-size="9.5" fill="#333" stroke="#333" stroke-width="0.15" text-anchor="end">−0.25</text>
<text x="492.5" y="197.8" font-size="23" fill="#000" stroke="#000" stroke-width="0.0" text-anchor="start">f</text>
<text x="485.5" y="309.5" font-size="9.5" fill="#333" stroke="#333" stroke-width="0.25" text-anchor="middle">10<tspan dy="-3.6" font-size="6.84">−3</tspan></text>
<text x="563.8" y="309.5" font-size="9.5" fill="#333" stroke="#333" stroke-width="0.25" text-anchor="middle">10<tspan dy="-3.6" font-size="6.84">−1</tspan></text>
<text x="642.5" y="309.5" font-size="9.5" fill="#333" stroke="#333" stroke-width="0.25" text-anchor="middle">10<tspan dy="-3.6" font-size="6.84">1</tspan></text>
<text x="565.4" y="321.2" font-size="11" fill="#333" stroke="#333" stroke-width="0.2" text-anchor="middle">Δ<tspan font-style="italic">t</tspan> / <tspan font-style="italic">τ</tspan><tspan dy="2.5" font-size="7.5">D</tspan></text>
<text transform="translate(446.5 234.9) rotate(-90)" font-size="13" fill="#333" stroke="#333" stroke-width="0.1" text-anchor="middle"><tspan font-style="italic">p</tspan><tspan dy="3.12" font-size="8.84">naive</tspan><tspan dy="-3.12">(x &lt; x</tspan><tspan dy="3.12" font-size="8.84">m</tspan><tspan dy="-3.12">) − </tspan><tspan font-style="italic">p</tspan><tspan dy="3.12" font-size="8.84">des</tspan><tspan dy="-3.12">(x &lt; x</tspan><tspan dy="3.12" font-size="8.84">m</tspan><tspan dy="-3.12">)</tspan></text>
</svg>
</body></html>
